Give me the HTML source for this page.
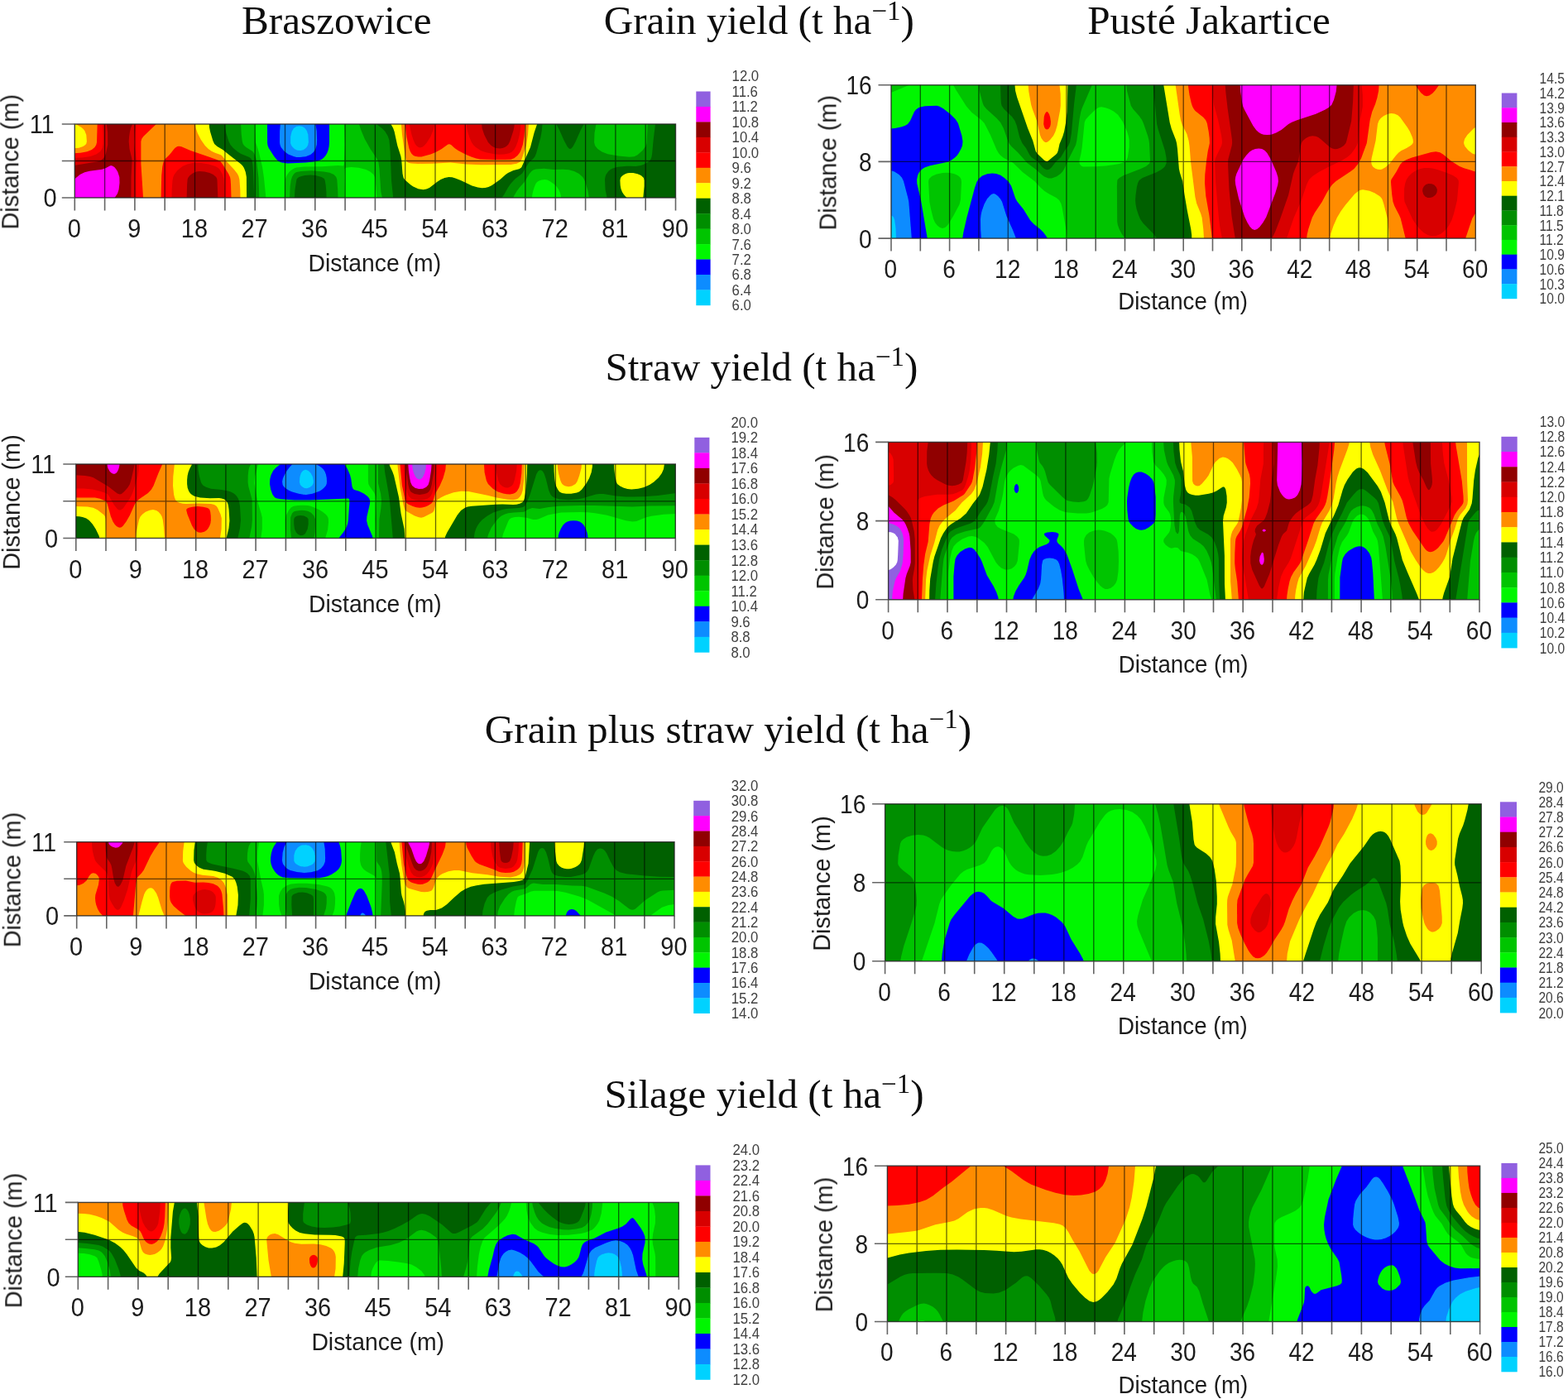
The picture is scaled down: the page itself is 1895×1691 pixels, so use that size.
<!DOCTYPE html>
<html lang="en"><head><meta charset="utf-8"><title>Yield maps</title>
<style>html,body{margin:0;padding:0;background:#fff}body{width:1895px;height:1691px;overflow:hidden}svg{display:block}</style></head><body>
<svg width="1895" height="1691" viewBox="0 0 1895 1691">
<defs><filter id="soft" x="-5%" y="-5%" width="110%" height="110%"><feGaussianBlur stdDeviation="0.6"/></filter><filter id="tsoft" x="-5%" y="-20%" width="110%" height="140%"><feGaussianBlur stdDeviation="0.35"/></filter></defs>
<rect width="1895" height="1691" fill="#fff"/>
<g font-family="'Liberation Serif',serif" font-size="49.2" fill="#111" filter="url(#tsoft)">
<text x="406.8" y="41.3" text-anchor="middle">Braszowice</text>
<text x="1461.0" y="41.3" text-anchor="middle">Pusté Jakartice</text>
<text x="917.3" y="41.3" text-anchor="middle">Grain yield (t ha<tspan font-size="33" dy="-17.5">−1</tspan><tspan dy="17.5">)</tspan></text>
<text x="920.5" y="459.7" text-anchor="middle">Straw yield (t ha<tspan font-size="33" dy="-17.5">−1</tspan><tspan dy="17.5">)</tspan></text>
<text x="880.0" y="897.6" text-anchor="middle">Grain plus straw yield (t ha<tspan font-size="33" dy="-17.5">−1</tspan><tspan dy="17.5">)</tspan></text>
<text x="923.5" y="1338.6" text-anchor="middle">Silage yield (t ha<tspan font-size="33" dy="-17.5">−1</tspan><tspan dy="17.5">)</tspan></text>
</g>
<g>
<clipPath id="c_p1"><rect x="90.3" y="150.0" width="726.2" height="89.0"/></clipPath>
<g clip-path="url(#c_p1)" filter="url(#soft)">
<rect x="88.3" y="148.0" width="730.2" height="93.0" fill="#00D2FF"/>
<path fill="#0A8CFF" d="M89.3,149 817.5,149 817.5,240 89.3,240ZM358.4,152.8 355,155 352.6,159 351.2,165 351.1,173 351.7,175 352.9,177 355.9,180 359.4,181.8 363.4,182.1 366.4,181.2 368.4,180 370.6,178 371.9,176 372.9,172 372.4,163 370.8,158 369.4,155.9 367.4,154 365.4,152.9 363.4,152.4 361.4,152.3Z"/>
<path fill="#0000FF" d="M89.3,149 338.9,149 338.1,159 338,172 338.4,175 339.6,178 343.4,182.8 348.4,186.4 355.4,189.3 358.4,189.9 362.4,190.1 369.4,189.2 375.2,187 378.8,184 381.3,180 382.8,175 383.1,169 382.7,158 381.2,149 817.5,149 817.5,240 89.3,240Z"/>
<path fill="#00F600" d="M89.3,149 323,149 323.1,173 323.6,176 324.8,179 331.4,189.3 335.4,194 337.4,195.3 340.4,196.5 347.4,197.6 369.4,196.4 380.4,195.3 386.4,193.8 389.4,192.2 391.4,190.5 393.5,188 395.3,185 396.8,181 397.6,177 398,172 398,149 817.5,149 817.5,240 89.3,240Z"/>
<path fill="#00C400" d="M89.3,149 308,149 308.2,160 309,172 312.9,184 317.1,202 319,215 321.5,240 89.3,240ZM416,149 817.5,149 817.5,240 678,240 677.7,236 676.9,233 675.1,229 673.1,226 670.1,223 664.5,218.9 661.5,217.4 658.5,216.9 654.5,217.4 651.5,218.4 649.1,220 647.5,222 645.8,226 644,232 643.2,236 643,240 455.5,240 453.5,216 452.6,213 451.4,211 447.4,207.4 442.4,205.1 433.4,202.7 424.4,202 417.4,202.7 416.4,204.5 416.1,215 416.8,240 343.8,240 344.2,224 344.7,218 345.3,215 346.6,212 349.4,208 351.5,206 355.4,203.5 358.4,202.4 367.4,201.6 389.4,201.2 408.4,200.1 414.4,200.5 415.4,200 415.9,197 417,175Z"/>
<path fill="#008E00" d="M89.3,149 291,149 291.8,163 292.8,171 293.7,174 295.1,176 297.4,178 305.4,183.1 307.5,186 309.3,191 310.5,198 312.5,215 313.4,240 89.3,240ZM434.1,149 720.6,149 718.5,161 718.1,172 719.1,176 722.3,180 727.5,183.6 734.5,186.2 747.5,188.6 760.5,189.8 766.5,189.2 770.5,187.2 776.4,182 780.2,177 781.1,175 781.6,172 782.7,149 817.5,149 817.5,240 711.9,240 710.4,230 707.3,220 705.5,216 704.2,214 699.8,210 693.9,207 687.5,205.2 680.5,204.7 668.5,205 657.5,203.8 647.5,204.5 644.5,205.5 642.4,207 639.9,210 633.8,220 628.4,226 624.6,231 621.1,237 620.3,239 620.3,240 462.2,240 460.4,232.2 458.5,204 457.4,196 455.6,192 447.4,179.8 440.8,168 436.2,157 434.3,151ZM363.8,207 376.4,206.3 391.4,207.5 398.4,208.7 403.5,211 406.3,214 407.3,217 408.2,229 408.5,240 350,240 350.7,225 351.7,218 352.9,214 354.6,211 356.5,209 358.4,208Z"/>
<path fill="#006000" d="M89.3,149 272,149 272.3,155 273.4,161 276.5,171 278.5,175 281.9,179 287.4,183.6 291.4,185.9 301.2,190 303.4,191.8 304.4,193.5 305.4,198.6 306.1,208 307.3,240 89.3,240ZM455.5,149 655.5,149 655.5,150 654.8,158 653.4,166 648.2,185 646.6,189 644.5,191.7 639.5,195.9 631.4,209.2 629.4,211.1 622.8,216 617.2,222 613.8,227 609.4,234.9 606.5,239 606.5,240 475.3,240 473.1,219 471.4,180 470.4,169.3 468.5,164 465.4,158.9 462.4,155.7 456.3,151 455.5,150ZM672.4,149 705.6,149 705.2,151 701.9,157 695.7,171 692.5,177 690.5,179.4 688.5,179.9 687.1,179 685.5,176.9 681.5,169.4 676,157 672.8,151ZM792.1,149 817.5,149 817.5,240 733.8,240 731.5,229 731,217 731.4,214 732.4,211 735.5,206.8 737.7,205 740.5,203.5 746.5,201.7 757.5,200.7 768.5,200.9 774.5,199.9 778.5,198.4 782.8,196 784.5,194.9 786.2,193 787.4,190 788.1,186 789.5,170.5ZM368.4,212 375.4,211.6 381.4,212.1 388.6,214 391.8,216 392.7,218 393.7,224 394.4,232 394.6,240 355.8,240 356.4,229.6 358.4,217 359.4,215.4 361.3,214 364.4,212.9Z"/>
<path fill="#FFFF00" d="M89.3,149 252.7,149 253,154 254,159 257.3,170.1 259.1,174 262.5,177 269.3,180.9 275.4,186.1 290.8,198 292.9,200 294.9,203 296.8,208 297.9,214 298.1,240 89.3,240ZM472.4,149 649.1,149 649.1,150 645.7,160 641,178 630.4,201.9 629.4,203 627.4,204.2 620.4,206.1 614,209 611.1,211 604.4,217.1 594.5,224 590.4,225.9 586.4,226.9 582.4,227.2 577.4,226.6 570.4,224.4 557.4,218.2 550.4,215.5 546.4,214.3 542.4,213.9 537.4,214.9 532.6,217 528.4,219.7 519,227 515.4,228.6 511.4,229.2 505.4,228.2 499.4,225.5 496.4,223.4 489.4,217.4 487.7,215 486.5,210 485.3,194 484.4,188.7 480.3,176 476.6,159 475.2,155 472.4,150ZM760.3,209 765.2,209 770.5,210.2 774.7,212 777.9,215 778.6,218 778.6,225 777.2,240 757.4,240 757.4,239 753.8,235 751.9,232 750.4,228 749.7,224 749.4,218 750,215 751.5,213 754.2,211 757.5,209.6Z"/>
<path fill="#FF8C00" d="M91.5,149 235.9,149 236.7,155 238.8,161 242.9,169 247.8,176 251.8,180 255.3,182.5 259.3,184.4 266.3,186.9 268.3,188.3 273.4,194.7 283,205 286.9,210 288.4,213 289.4,217 290.3,229 290.5,240 89.3,240 89.3,179.3 95.3,178.7 100.3,177 102.3,175.8 104.2,174 104.9,171 104.3,163 102.3,158 100.7,156 98.4,154 91.5,150ZM484.8,149 638.9,149 638.9,150 638.1,162 636,176 630.4,192.8 628.4,195.8 624.4,197.8 617.4,198.9 581.4,199.2 563.4,198.5 544.4,196.4 522.4,197.7 505.4,197.9 497.4,197.4 494.4,196.9 492.4,196.1 490.8,194 489.7,189 485.9,162Z"/>
<path fill="#FF0000" d="M117.7,149 188.5,149 188.5,150 187.8,151 173.2,165 171.3,167.7 170.4,171 170.4,198 173.1,240 89.3,240 89.3,185.2 97.3,184.8 105.3,183.3 110.9,181 114.5,178 116.3,175 117,172ZM489.4,149 634.5,149 634.5,152 633.5,165 631.8,175 629.4,182 627.8,185 625.4,188 621.4,191.3 617.4,192.7 610.4,193.1 595.4,193 580.4,192.4 575.4,191.4 569.4,189.6 562.4,186.6 553.8,182 549.4,179.1 545.4,175.3 543.4,174.2 541.4,174.5 533.4,180.3 526.6,184 520.4,186.6 509.4,189.5 505.4,189.6 501.4,188.7 499.4,187.7 497.4,185.8 495.8,183 494.4,179.2 491.4,165.4ZM214.3,177 216.3,176.7 219.3,177.3 230.3,182 261.3,192.7 266.4,195 269.3,198.9 276.1,210 278,214 278.6,217 279,222 279.5,240 194.6,240 195.2,212 196.2,202 197.3,196.5 198.4,194 199.8,192 204.9,187 211.3,179.1Z"/>
<path fill="#D80000" d="M123.9,149 164.6,149 162.7,163 162.1,172 162.4,176 164.4,187 165,193 164.1,217 164.7,240 89.3,240 89.3,190.8 99.3,190.6 109.3,189.1 116.3,186.6 121.3,182.9 123.7,179 124.7,174 124.7,163ZM494.4,149 525,149 524.9,152 524.1,156 520.5,165 515.4,173 512.7,176 510.4,177.7 507.4,178.4 505.4,177.8 503.2,176 501.4,173.6 499.4,168.8 497.4,162.4ZM563.9,149 629.4,149 629,156 627.9,163 625.8,171 623.5,177 621.2,181 618.4,183.8 615.4,185.2 609.4,186.4 603.4,186.8 597.4,186.3 587.4,184.3 581.4,182.2 575,178 571.9,175 569.9,172 567.3,166 565.2,159 564.2,154ZM232.8,197 241.3,196.8 252.3,198.5 260.3,201.1 263.3,202.7 265.3,204.5 268.6,210 270.5,216 271.2,227 271.4,240 207.4,240 207.7,229 208.5,218 209.3,214 210.6,211 214.4,206 220.6,201 226.3,198.4Z"/>
<path fill="#900000" d="M128.7,149 160.1,149 160.1,150 158,155 157,159 156.1,165 155.7,171 156.5,180 159.2,191 159.6,194 158.5,214 158.4,240 89.3,240 89.3,199.9 118.3,195.2 122.3,193.8 125.3,191 127,188 128.1,185 130.2,175 130.1,160ZM582.1,149 621.8,149 621.4,153.4 620.4,158 616.4,170.6 614.4,174.6 612.4,176.5 610.1,178 607.4,179 604.4,179.5 599.4,179 596.4,177.8 593.7,176 589.9,172 585.3,163 582.6,155ZM241,207 247.3,207.4 253.3,208.9 257.7,211 261.2,214 262.2,216 262.5,218 263.4,240 225.6,240 226.1,223 226.6,217 227.2,215 229.5,212 233.3,209.3 237.3,207.6Z"/>
<path fill="#FF00FF" d="M128.1,203 133.3,200.2 135.3,200.2 138.3,202.1 140.3,204.4 142.3,207.8 144.3,214 144.5,221 143.6,229 142,234 138.6,239 138.6,240 89.3,240 89.3,216.3 90.3,216.3 91.3,215.6 96.6,211 102.3,208.3 108.3,206.7 123.3,204.7Z"/>
</g>
<path d="M126.6,150.0V239.0M162.9,150.0V239.0M199.2,150.0V239.0M235.5,150.0V239.0M271.9,150.0V239.0M308.2,150.0V239.0M344.5,150.0V239.0M380.8,150.0V239.0M417.1,150.0V239.0M453.4,150.0V239.0M489.7,150.0V239.0M526.0,150.0V239.0M562.3,150.0V239.0M598.6,150.0V239.0M634.9,150.0V239.0M671.3,150.0V239.0M707.6,150.0V239.0M743.9,150.0V239.0M780.2,150.0V239.0M90.3,194.5H816.5" stroke="#000" stroke-opacity="0.6" stroke-width="1.3" fill="none"/>
<rect x="90.3" y="150.0" width="726.2" height="89.0" stroke="#222" stroke-opacity="0.85" stroke-width="1.4" fill="none"/>
<path d="M90.3,239.0V254.5M126.6,239.0V254.5M162.9,239.0V254.5M199.2,239.0V254.5M235.5,239.0V254.5M271.9,239.0V254.5M308.2,239.0V254.5M344.5,239.0V254.5M380.8,239.0V254.5M417.1,239.0V254.5M453.4,239.0V254.5M489.7,239.0V254.5M526.0,239.0V254.5M562.3,239.0V254.5M598.6,239.0V254.5M634.9,239.0V254.5M671.3,239.0V254.5M707.6,239.0V254.5M743.9,239.0V254.5M780.2,239.0V254.5M816.5,239.0V254.5M74.8,150.0H90.3M74.8,194.5H90.3M74.8,239.0H90.3" stroke="#4a4a4a" stroke-opacity="0.85" stroke-width="1.6" fill="none" filter="url(#tsoft)"/>
<g font-family="'Liberation Sans',sans-serif" font-size="30.5" fill="#1c1c1c" text-anchor="middle" filter="url(#tsoft)">
<text transform="translate(89.7 287.0) scale(0.95 1)">0</text>
<text transform="translate(162.3 287.0) scale(0.95 1)">9</text>
<text transform="translate(234.9 287.0) scale(0.95 1)">18</text>
<text transform="translate(307.6 287.0) scale(0.95 1)">27</text>
<text transform="translate(380.2 287.0) scale(0.95 1)">36</text>
<text transform="translate(452.8 287.0) scale(0.95 1)">45</text>
<text transform="translate(525.4 287.0) scale(0.95 1)">54</text>
<text transform="translate(598.0 287.0) scale(0.95 1)">63</text>
<text transform="translate(670.7 287.0) scale(0.95 1)">72</text>
<text transform="translate(743.3 287.0) scale(0.95 1)">81</text>
<text transform="translate(815.9 287.0) scale(0.95 1)">90</text>
</g>
<g font-family="'Liberation Sans',sans-serif" font-size="30.5" fill="#1c1c1c" text-anchor="end" filter="url(#tsoft)">
<text transform="translate(68.7 250.2) scale(0.95 1)">0</text>
<text transform="translate(65.7 161.2) scale(0.95 1)">11</text>
</g>
<text font-family="'Liberation Sans',sans-serif" font-size="30" fill="#1c1c1c" text-anchor="middle" filter="url(#tsoft)" transform="translate(452.8 327.6) scale(0.945 1)">Distance (m)</text>
<text font-family="'Liberation Sans',sans-serif" font-size="30" fill="#1c1c1c" text-anchor="middle" filter="url(#tsoft)" transform="translate(22.3 195.7) rotate(-90) scale(0.962 1)">Distance (m)</text>
<g filter="url(#soft)">
<rect x="841.3" y="110.50" width="17.3" height="18.76" fill="#9060E0"/>
<rect x="841.3" y="128.96" width="17.3" height="18.76" fill="#FF00FF"/>
<rect x="841.3" y="147.41" width="17.3" height="18.76" fill="#900000"/>
<rect x="841.3" y="165.87" width="17.3" height="18.76" fill="#D80000"/>
<rect x="841.3" y="184.33" width="17.3" height="18.76" fill="#FF0000"/>
<rect x="841.3" y="202.79" width="17.3" height="18.76" fill="#FF8C00"/>
<rect x="841.3" y="221.24" width="17.3" height="18.76" fill="#FFFF00"/>
<rect x="841.3" y="239.70" width="17.3" height="18.76" fill="#006000"/>
<rect x="841.3" y="258.16" width="17.3" height="18.76" fill="#008E00"/>
<rect x="841.3" y="276.61" width="17.3" height="18.76" fill="#00C400"/>
<rect x="841.3" y="295.07" width="17.3" height="18.76" fill="#00F600"/>
<rect x="841.3" y="313.53" width="17.3" height="18.76" fill="#0000FF"/>
<rect x="841.3" y="331.99" width="17.3" height="18.76" fill="#0A8CFF"/>
<rect x="841.3" y="350.44" width="17.3" height="18.76" fill="#00D2FF"/>
</g>
<g font-family="'Liberation Sans',sans-serif" font-size="18" fill="#404040" filter="url(#tsoft)">
<text transform="translate(884.6 98.4) scale(0.93 1)">12.0</text>
<text transform="translate(884.6 116.9) scale(0.93 1)">11.6</text>
<text transform="translate(884.6 135.3) scale(0.93 1)">11.2</text>
<text transform="translate(884.6 153.8) scale(0.93 1)">10.8</text>
<text transform="translate(884.6 172.3) scale(0.93 1)">10.4</text>
<text transform="translate(884.6 190.7) scale(0.93 1)">10.0</text>
<text transform="translate(884.6 209.2) scale(0.93 1)">9.6</text>
<text transform="translate(884.6 227.6) scale(0.93 1)">9.2</text>
<text transform="translate(884.6 246.1) scale(0.93 1)">8.8</text>
<text transform="translate(884.6 264.5) scale(0.93 1)">8.4</text>
<text transform="translate(884.6 283.0) scale(0.93 1)">8.0</text>
<text transform="translate(884.6 301.5) scale(0.93 1)">7.6</text>
<text transform="translate(884.6 319.9) scale(0.93 1)">7.2</text>
<text transform="translate(884.6 338.4) scale(0.93 1)">6.8</text>
<text transform="translate(884.6 356.8) scale(0.93 1)">6.4</text>
<text transform="translate(884.6 375.3) scale(0.93 1)">6.0</text>
</g>
</g>
<g>
<clipPath id="c_p2"><rect x="1077.0" y="102.8" width="706.3" height="185.3"/></clipPath>
<g clip-path="url(#c_p2)" filter="url(#soft)">
<rect x="1075.0" y="100.8" width="710.3" height="189.3" fill="#00D2FF"/>
<path fill="#0A8CFF" d="M1076,101.8 1784.3,101.8 1784.3,289.1 1083,289.1 1082.6,276.1 1081.2,266.1 1080.1,263.1 1079,261.4 1077,260.2 1076,260.2Z"/>
<path fill="#0000FF" d="M1076,101.8 1784.3,101.8 1784.3,289.1 1227.8,289.1 1227.5,287.1 1224,278.1 1216.4,261.1 1211.1,244 1209.1,240.5 1206.1,237 1203.1,234.7 1201.1,234.1 1199.1,234.5 1197.1,235.7 1193,240.2 1189.4,247 1186.6,255 1185.5,260.1 1185,265.1 1185.2,278.1 1185.9,289.1 1101.9,289.1 1098.3,244 1097.3,239 1092,219 1090,214.8 1086.5,211 1081,207.6 1078,206.5 1076,206.3Z"/>
<path fill="#00F600" d="M1076,101.8 1784.3,101.8 1784.3,289.1 1265.7,289.1 1265.7,288.1 1264.8,286.1 1261.1,281 1257.1,277.1 1249.1,270.6 1245.1,266.3 1236.9,253 1229.1,243.2 1227.1,239.5 1222.2,225 1219.2,220 1214.1,215.2 1209.1,211.8 1204.1,210 1199.1,209.5 1193,210.2 1187,212.6 1182.9,216 1180.4,220 1178,227.1 1168.4,263.1 1164.1,282.1 1163.1,289.1 1120.9,289.1 1113,242 1108.3,222 1108.1,217 1109.1,212 1110.4,209 1112,206.7 1115,204 1118,202.3 1124,200.2 1144.1,196 1149.2,193.9 1154,190.6 1156.6,187.9 1158.7,184.9 1161.4,179.9 1163,175.9 1163.5,170.9 1162.4,163.9 1157.9,148.9 1154.7,143.9 1148.6,137.9 1140,131.3 1135,128.4 1132,127.7 1118,128.3 1113,129.2 1110,130.3 1107,132.4 1105,134.9 1100,145.9 1097,149.9 1093.6,151.9 1089,153.5 1081.8,154.9 1076,155.4Z"/>
<path fill="#00C400" d="M1076,101.8 1098.9,101.8 1098.9,102.8 1078,111.6 1076,111.9ZM1152.2,101.8 1784.3,101.8 1784.3,289.1 1290,289.1 1288.4,277.1 1283.6,251 1282.3,246 1280.1,242 1276.5,239 1267.1,234.1 1262.4,231 1258.1,227.2 1250.3,219 1236.1,208.3 1225.1,197.6 1222.1,195.6 1213.1,191 1209.1,187.7 1206.8,184.9 1204.5,180.9 1197.1,163.5 1189.7,148.9 1186,144.9 1174.5,135.9 1168.1,128.8 1155.4,108.8 1152.6,103.8ZM1328.1,129.7 1324.1,132.2 1316.1,139.9 1312.1,144.6 1310.7,147.9 1307.7,177.9 1306.4,185.9 1304.3,194.9 1304.5,197 1305.4,199 1307.1,200.7 1309.1,201.6 1324.1,201.2 1336.1,200.4 1345.1,199.3 1352.5,198 1357.1,196.6 1360.1,195.1 1361.8,192.9 1362.9,189.9 1364.7,177.9 1364.7,168.9 1363.7,163.9 1362.1,158.9 1356.8,146.9 1351.1,138.7 1346.1,134.7 1341.1,132.1 1336.1,130.2 1331.1,129.3ZM1139.3,209 1144,208.7 1148,209 1152.8,210 1156,211.2 1158.9,213 1160.7,215 1161.6,217 1162,220 1161,241 1159.6,247 1152,261.3 1146.1,271.1 1144,273.5 1142.2,275.1 1139,276 1136,275.1 1133,272.8 1130,268.9 1128,264.4 1125,252.6 1123.4,244 1122.1,220 1122.3,218 1123,216 1126.1,213 1132,210.4Z"/>
<path fill="#008E00" d="M1183,101.8 1319.7,101.8 1319.4,103.8 1307.7,130.8 1306.3,134.9 1304.6,143.9 1301.3,169.9 1300.1,175.3 1291.1,192.9 1286.3,204 1284.1,207.4 1281.7,210 1277.1,213.2 1271.1,215.4 1267.1,215.4 1262.1,213.5 1259.1,211.3 1252.1,205.1 1241.5,197 1230.1,184.3 1222.4,176.9 1220,173.9 1218.4,170.9 1212.8,154.9 1209.1,147.9 1204.6,142.9 1192.2,131.8 1188.9,127.8 1187.7,124.8 1184.2,111.8 1183.3,106.8ZM1361.1,101.8 1784.3,101.8 1784.3,289.1 1359.5,289.1 1359.5,288.1 1355.2,282.1 1352.7,277.1 1350.9,272.1 1350.2,268.1 1349.9,225 1350.3,218 1350.8,217 1352.8,215 1357.9,212 1378.7,204 1385.1,201 1388.7,198 1389.8,196 1390,193.9 1389,172.9 1388.4,168.9 1387.1,163.9 1381.9,148.9 1380.1,144.9 1376.6,139.9 1369.3,131.8 1366.8,127.8 1362.1,110Z"/>
<path fill="#006000" d="M1209,101.8 1301,101.8 1298.1,125.5 1294.9,160.9 1293,171.9 1291.2,175.9 1287.1,181.4 1282.1,189.9 1276.1,195.6 1271.1,202.1 1268.1,204.7 1265.1,205.3 1262.1,204.1 1259.7,202 1254.1,195.6 1246.5,189.9 1244.2,186.9 1240.1,179.2 1235.4,172.9 1232.3,165.9 1228.8,151.9 1226.5,145.9 1223,140.9 1213.3,131.8 1210.6,127.8 1209.9,124.8 1209.5,118.8ZM1393.9,101.8 1784.3,101.8 1784.3,289.1 1397.7,289.1 1397.3,287.1 1394.1,282.7 1381.7,270.1 1378.1,265.1 1376,260.1 1373.7,253 1372.5,247 1372.1,242 1372.5,236 1373.9,226 1375.2,221 1376.7,218 1380.8,215 1397.1,208.4 1403.1,205.3 1406.1,203 1408,201 1409.7,197 1409.6,190.9 1407.9,181.9 1399.6,155.9 1398.1,149.9 1394.6,112.8Z"/>
<path fill="#FFFF00" d="M1226.4,101.8 1290.4,101.8 1289.6,134.9 1288.1,148.2 1286.1,159 1284.3,164.9 1280.5,173.9 1278.8,181.9 1277.7,184.9 1275.9,186.9 1266.1,194.9 1264.1,195 1262.1,193.7 1253.9,185.9 1251.8,182.9 1248.2,169.9 1242.1,154.9 1229.2,117.8 1227.1,109.8ZM1406.1,101.8 1784.3,101.8 1784.3,289.1 1440.3,289.1 1440.2,284.1 1439.3,277.1 1434.9,255 1431.5,235 1429.2,219 1426,209 1424.9,204 1423,179.9 1422.1,173.3 1421,168.9 1415.9,155.9 1413.7,147.9Z"/>
<path fill="#FF8C00" d="M1242.5,101.8 1280.4,101.8 1281.7,113.8 1281.8,127.8 1281.1,133.5 1277.6,151.9 1275.5,158.9 1273.1,163.9 1269.1,168.9 1267.1,170.8 1265.1,172 1263.1,171.9 1261.1,170.4 1258.5,166.9 1256.9,162.9 1253.1,145.9 1247.7,131.8 1246.2,126.8 1243.3,110.8ZM1420.5,101.8 1784.3,101.8 1784.3,154 1783.3,154 1781.3,155.1 1773.4,162.9 1770.1,167.9 1769.1,171.9 1769.3,173.9 1770.5,176.9 1774.3,181.5 1779.3,185.4 1782.3,186.6 1784.3,186.8 1784.3,289.1 1678.9,289.1 1678.4,278.1 1676.8,264.1 1672.3,246.4 1670.5,241 1669.2,239 1667.2,237 1661.2,233.2 1655.2,230.8 1647.2,229.3 1645.2,229.5 1642.2,230.6 1637.2,234.4 1626.2,247.5 1620.7,255 1615.9,263.1 1611.5,273.1 1608.4,282.1 1607.1,289.1 1455,289.1 1454.3,277.1 1452.6,263.1 1451.1,258.1 1446.2,246 1444.4,238 1439.2,197 1437.6,176.9 1436.6,169.9 1434.4,161.9 1428.8,150.9 1427.1,145.8 1425.8,138.9ZM1677.3,137.8 1672.4,139.9 1668.6,142.9 1666.4,145.9 1665,149.9 1662.6,169.9 1657.7,190.9 1657.1,194.9 1657.8,199 1659.2,201.5 1662.2,203.8 1665.2,204.8 1668.3,205 1670.3,204.6 1674.7,202 1680,197 1687,187.9 1690.3,184.5 1693.3,182.2 1699.9,178.9 1704.8,175.9 1707,173.9 1707.9,171.9 1707.7,168.9 1706.9,165.9 1703.9,158.9 1700.9,153.9 1692.3,141.9 1689.3,139.3 1685.3,137.5 1681.3,137.1Z"/>
<path fill="#FF0000" d="M1435.7,101.8 1666.6,101.8 1666.1,109.8 1664.5,117.8 1662.1,125.8 1658.2,135.2 1655.7,144.9 1651.8,172.9 1645.2,190.9 1641.2,198.3 1636.5,204 1632.2,207.3 1614.6,219 1610.2,223 1607.2,227 1603.5,233 1597.7,244 1589,257 1585.8,263.1 1581.2,277.1 1579.6,284.1 1579.1,289.1 1465,289.1 1461.4,260.1 1457.3,237 1456,221 1456.3,211 1458.1,193.9 1459.7,182.9 1461.9,172.9 1461.7,166.9 1460.7,158.9 1458.8,148.9 1457.2,145.2 1454.2,141.8 1444.5,133.9 1442.8,131.8 1441.1,128.8 1439.8,124.8 1437.5,114.8ZM1710.9,101.8 1739.1,101.8 1739.1,102.8 1734.3,109.5 1731.3,112.8 1727.3,115.6 1724.3,116.2 1721.3,115.4 1717.3,112.3 1711.9,104.8 1710.9,102.8ZM1263.9,135.9 1265.1,135.1 1266.1,135.3 1268,137.9 1269.2,141.9 1269.9,146.9 1269.8,149.9 1269.1,152.9 1267.1,155.9 1265.1,156.6 1263.7,155.9 1262.2,153.9 1261.2,149.9 1261.8,140.9 1262.7,137.9ZM1729.6,183.9 1735.3,183.3 1740.3,184.3 1744.3,186.8 1754.3,194.9 1763.8,201 1769.3,203.3 1782.3,207.2 1784.3,207.5 1784.3,258.1 1783.3,258.1 1782.3,259 1779.3,264.1 1771.5,287.1 1771.2,289.1 1698.9,289.1 1692.7,264.1 1691,260.1 1685.3,249 1683.5,244 1682.2,235 1681.1,222 1681,219 1681.4,217 1687.3,208 1692.3,198.7 1695.3,195.4 1699.9,192.9 1706.3,190.5Z"/>
<path fill="#D80000" d="M1465.3,101.8 1645.6,101.8 1646.9,114.8 1646.9,128.8 1643.2,147.8 1641.4,169.9 1640.8,172.9 1639.7,175.9 1637.3,179.9 1633.6,184.9 1631.2,187.6 1628.2,190.1 1621.2,194.3 1605.2,201.9 1594.2,207.8 1586.2,213 1582.1,217 1579.2,222.9 1572.5,243 1563.7,263.1 1555.5,287.1 1555.2,289.1 1476.9,289.1 1474.1,273.1 1472.8,262.1 1469.2,221 1468.1,197 1468.2,193.9 1469.2,190.5 1476.2,175.9 1476.9,172.9 1476.9,169.9 1476.1,163.9 1472.1,144.9 1467.1,126.8 1465.7,113.8ZM1716.6,204 1721.3,203.1 1726.3,203 1731.3,203.6 1737.3,205 1748.8,209 1755.9,212 1760.5,215 1762.7,218 1762.9,221 1761,242 1757.1,258.1 1754.5,266.1 1750.9,273.1 1746.3,278.8 1741.3,282.7 1738.3,284.1 1735.3,285 1730.3,285.4 1725.3,284.1 1720.3,281 1715.3,276.3 1711.1,271.1 1707.3,265.3 1697.5,244 1697,240 1697.1,228 1698.1,222 1699.8,217 1702.5,213 1706.8,209 1711.3,206.1Z"/>
<path fill="#900000" d="M1480.6,101.8 1635.9,101.8 1635.1,122.8 1633.2,146.2 1627.5,169.9 1626.5,172.9 1624.1,175.9 1620.2,178.6 1616.2,180 1613.2,180.2 1610.2,179.5 1607.3,177.9 1595.9,167.9 1593.2,166 1590.2,164.8 1586.2,164.3 1582.2,165.1 1578.2,167 1574.2,170.5 1572.9,172.9 1572.2,175.6 1569.1,194.9 1564.8,205 1563,210 1557.1,236 1547.2,264.4 1541.2,280 1537.3,288.1 1537.3,289.1 1492.9,289.1 1488.5,261.1 1485.4,228 1484.1,200 1484.2,192.9 1488.7,175.9 1489.1,172.9 1489,168.9 1483.7,131.8 1481.5,112.8ZM1726.4,222 1730.3,222.2 1733.3,223.5 1735.6,226 1736.9,229 1736.7,232 1735.9,234 1734.4,236 1731.3,238.3 1728.3,239.1 1725.3,238.9 1722.3,237.4 1720.3,235 1719.1,231 1719.4,228 1721,225 1723.3,223.1Z"/>
<path fill="#FF00FF" d="M1498.7,101.8 1615.5,101.8 1615.5,102.8 1614.7,110.8 1612,120.8 1609.3,126.8 1606.1,129.8 1601.1,132.8 1590.2,137.7 1568.2,144.9 1561.2,147.7 1557.2,150.1 1548.6,156.9 1542.2,160.6 1536.2,162.7 1531.2,163.1 1527.2,162.7 1524.2,161.7 1521.2,160 1518.2,157.2 1514.4,151.9 1504.2,133.1 1502.3,128.8 1501.2,124.3 1499.2,110.8ZM1517,179.9 1521.2,179.4 1525.2,180.1 1528.6,181.9 1531.4,184.9 1535.5,191.9 1542.5,208 1544.4,214 1544.9,219 1544.2,223.5 1541.4,233 1530.2,262.5 1526.4,269.1 1522.2,274.6 1519.2,277.1 1516.2,277.9 1513.2,276.7 1510.6,274.1 1507.5,269.1 1504.2,262 1497.2,240.5 1493.2,223 1492.7,218 1493.2,214.1 1494.4,210 1502.4,192.9 1506.2,187.8 1510.2,183.5 1513.2,181.4Z"/>
</g>
<path d="M1112.3,102.8V288.1M1147.6,102.8V288.1M1182.9,102.8V288.1M1218.3,102.8V288.1M1253.6,102.8V288.1M1288.9,102.8V288.1M1324.2,102.8V288.1M1359.5,102.8V288.1M1394.8,102.8V288.1M1430.2,102.8V288.1M1465.5,102.8V288.1M1500.8,102.8V288.1M1536.1,102.8V288.1M1571.4,102.8V288.1M1606.7,102.8V288.1M1642.0,102.8V288.1M1677.4,102.8V288.1M1712.7,102.8V288.1M1748.0,102.8V288.1M1077.0,195.4H1783.3" stroke="#000" stroke-opacity="0.6" stroke-width="1.3" fill="none"/>
<rect x="1077.0" y="102.8" width="706.3" height="185.3" stroke="#222" stroke-opacity="0.85" stroke-width="1.4" fill="none"/>
<path d="M1077.0,288.1V303.6M1112.3,288.1V303.6M1147.6,288.1V303.6M1182.9,288.1V303.6M1218.3,288.1V303.6M1253.6,288.1V303.6M1288.9,288.1V303.6M1324.2,288.1V303.6M1359.5,288.1V303.6M1394.8,288.1V303.6M1430.2,288.1V303.6M1465.5,288.1V303.6M1500.8,288.1V303.6M1536.1,288.1V303.6M1571.4,288.1V303.6M1606.7,288.1V303.6M1642.0,288.1V303.6M1677.4,288.1V303.6M1712.7,288.1V303.6M1748.0,288.1V303.6M1783.3,288.1V303.6M1061.5,102.8H1077.0M1061.5,195.4H1077.0M1061.5,288.1H1077.0" stroke="#4a4a4a" stroke-opacity="0.85" stroke-width="1.6" fill="none" filter="url(#tsoft)"/>
<g font-family="'Liberation Sans',sans-serif" font-size="30.5" fill="#1c1c1c" text-anchor="middle" filter="url(#tsoft)">
<text transform="translate(1076.4 335.8) scale(0.92 1)">0</text>
<text transform="translate(1147.0 335.8) scale(0.92 1)">6</text>
<text transform="translate(1217.7 335.8) scale(0.92 1)">12</text>
<text transform="translate(1288.3 335.8) scale(0.92 1)">18</text>
<text transform="translate(1358.9 335.8) scale(0.92 1)">24</text>
<text transform="translate(1429.6 335.8) scale(0.92 1)">30</text>
<text transform="translate(1500.2 335.8) scale(0.92 1)">36</text>
<text transform="translate(1570.8 335.8) scale(0.92 1)">42</text>
<text transform="translate(1641.4 335.8) scale(0.92 1)">48</text>
<text transform="translate(1712.1 335.8) scale(0.92 1)">54</text>
<text transform="translate(1782.7 335.8) scale(0.92 1)">60</text>
</g>
<g font-family="'Liberation Sans',sans-serif" font-size="30.5" fill="#1c1c1c" text-anchor="end" filter="url(#tsoft)">
<text transform="translate(1053.7 299.5) scale(0.92 1)">0</text>
<text transform="translate(1053.7 206.9) scale(0.92 1)">8</text>
<text transform="translate(1053.7 114.2) scale(0.92 1)">16</text>
</g>
<text font-family="'Liberation Sans',sans-serif" font-size="30" fill="#1c1c1c" text-anchor="middle" filter="url(#tsoft)" transform="translate(1429.6 373.5) scale(0.922 1)">Distance (m)</text>
<text font-family="'Liberation Sans',sans-serif" font-size="30" fill="#1c1c1c" text-anchor="middle" filter="url(#tsoft)" transform="translate(1010.5 196.7) rotate(-90) scale(0.962 1)">Distance (m)</text>
<g filter="url(#soft)">
<rect x="1814.8" y="112.50" width="18.6" height="18.04" fill="#9060E0"/>
<rect x="1814.8" y="130.24" width="18.6" height="18.04" fill="#FF00FF"/>
<rect x="1814.8" y="147.99" width="18.6" height="18.04" fill="#900000"/>
<rect x="1814.8" y="165.73" width="18.6" height="18.04" fill="#D80000"/>
<rect x="1814.8" y="183.47" width="18.6" height="18.04" fill="#FF0000"/>
<rect x="1814.8" y="201.21" width="18.6" height="18.04" fill="#FF8C00"/>
<rect x="1814.8" y="218.96" width="18.6" height="18.04" fill="#FFFF00"/>
<rect x="1814.8" y="236.70" width="18.6" height="18.04" fill="#006000"/>
<rect x="1814.8" y="254.44" width="18.6" height="18.04" fill="#008E00"/>
<rect x="1814.8" y="272.19" width="18.6" height="18.04" fill="#00C400"/>
<rect x="1814.8" y="289.93" width="18.6" height="18.04" fill="#00F600"/>
<rect x="1814.8" y="307.67" width="18.6" height="18.04" fill="#0000FF"/>
<rect x="1814.8" y="325.41" width="18.6" height="18.04" fill="#0A8CFF"/>
<rect x="1814.8" y="343.16" width="18.6" height="18.04" fill="#00D2FF"/>
</g>
<g font-family="'Liberation Sans',sans-serif" font-size="18" fill="#404040" filter="url(#tsoft)">
<text transform="translate(1860.6 101.1) scale(0.865 1)">14.5</text>
<text transform="translate(1860.6 118.9) scale(0.865 1)">14.2</text>
<text transform="translate(1860.6 136.6) scale(0.865 1)">13.9</text>
<text transform="translate(1860.6 154.4) scale(0.865 1)">13.6</text>
<text transform="translate(1860.6 172.1) scale(0.865 1)">13.3</text>
<text transform="translate(1860.6 189.9) scale(0.865 1)">13.0</text>
<text transform="translate(1860.6 207.6) scale(0.865 1)">12.7</text>
<text transform="translate(1860.6 225.3) scale(0.865 1)">12.4</text>
<text transform="translate(1860.6 243.1) scale(0.865 1)">12.1</text>
<text transform="translate(1860.6 260.8) scale(0.865 1)">11.8</text>
<text transform="translate(1860.6 278.6) scale(0.865 1)">11.5</text>
<text transform="translate(1860.6 296.3) scale(0.865 1)">11.2</text>
<text transform="translate(1860.6 314.1) scale(0.865 1)">10.9</text>
<text transform="translate(1860.6 331.8) scale(0.865 1)">10.6</text>
<text transform="translate(1860.6 349.5) scale(0.865 1)">10.3</text>
<text transform="translate(1860.6 367.3) scale(0.865 1)">10.0</text>
</g>
</g>
<g>
<clipPath id="c_p3"><rect x="91.8" y="561.0" width="724.5" height="89.5"/></clipPath>
<g clip-path="url(#c_p3)" filter="url(#soft)">
<rect x="89.8" y="559.0" width="728.5" height="93.5" fill="#00D2FF"/>
<path fill="#0A8CFF" d="M90.8,560 817.3,560 817.3,651.5 90.8,651.5ZM369,567.8 366,569 363.7,571.9 362.3,576.9 362,582.9 362.9,585.9 365,588.3 368,590 371,590.3 374,589.3 377.2,586.9 378.8,583.9 378.9,580.9 377.8,575.9 375.7,571.9 372.6,569 371,568.2Z"/>
<path fill="#0000FF" d="M90.8,560 353.4,560 353.4,561 349.7,565 346.7,569 342.8,575.9 341.7,578.9 341.1,581.9 341.6,585.9 342.8,587.9 345,590 349,592.7 353,594.6 361,596.8 366.4,597.8 370,598 377.5,596.8 386,593.8 389.2,591.8 391.5,589.8 393.9,586.9 394.7,584.9 395,581.9 394.7,576.9 393.8,572.9 392.6,570 391,567.5 389,565.4 386,563.3 381.5,561 381.5,560 817.3,560 817.3,651.5 439.9,651.5 439.9,650.5 438,650.1 436.7,650.5 436.7,651.5 90.8,651.5Z"/>
<path fill="#00F600" d="M90.8,560 339.1,560 339.1,561 333.7,565 330.1,569 327.6,573.9 326.3,578.9 326,584.9 327.2,591.8 329.4,597.8 332,601.2 334,602.3 339,603.3 356,604.6 375,604.6 421,602.5 422.2,603.8 422.4,606.7 420.9,628.6 420.3,632.6 419,636.6 417.5,639.6 414.9,643.5 410.1,649.5 409.5,650.5 409.5,651.5 90.8,651.5ZM416.3,560 817.3,560 817.3,651.5 710.5,651.5 710.3,647.5 709.5,643.5 707.7,638.6 705.4,634.6 703.2,632.3 700.5,630.6 697.2,629.6 693.2,629.2 689.2,629.6 685.8,630.6 683.2,632.1 680.6,634.6 678.1,638.6 675.9,643.5 674.8,647.5 674.5,651.5 450.7,651.5 450,648.1 444.3,634.6 443.1,629.6 443.4,624.6 447,608.7 447.2,605.8 446.8,603.8 445.7,601.8 444,599.8 440,596.7 434,593.7 428,592 426.6,590.8 425.5,587.9 424.3,578.9 423,574 420,567.1 416.3,561Z"/>
<path fill="#00C400" d="M90.8,560 312.1,560 311.8,562 308,575.9 307.3,583.9 311.7,607.7 315.7,620.7 316.8,625.6 316.8,639.6 315.2,651.5 90.8,651.5ZM444.9,560 817.3,560 817.3,620.9 802.3,621.7 787.3,623.7 780.3,625.4 769.3,629.9 764.3,630.5 756.3,629.3 733.5,622.7 719.2,620.3 710.2,619.3 701.2,618.9 678.2,619.4 662.2,622.6 651.2,627.2 648.2,628 644.2,627.9 636.2,625.8 627.2,624.7 622.2,624.9 618.2,626.1 615.8,627.6 614.2,630.2 608.2,645 607.3,648.5 607.1,651.5 454.8,651.5 453.7,628.6 454.9,607.7 454.8,603.8 454,599.8 452.3,595.8 446.8,587.9 445.3,584.9 444.9,580.9ZM354.9,611.7 360,611 366,610.8 372,611.1 375.7,611.7 386,616.3 390,618.7 393.7,621.7 395.3,623.6 396.4,625.6 396.9,627.6 397,631.6 396.1,640.6 393.5,649.5 393.2,651.5 346.5,651.5 345,639.6 344.8,629.6 345.1,625.6 346.4,621.7 349,616.7 352,613.3Z"/>
<path fill="#008E00" d="M90.8,560 303.2,560 303.2,561 301.2,565 300.3,569 299.7,574.9 299.6,582.9 300.3,587.9 304.6,603.8 304.9,628.6 304.2,636.6 301.1,651.5 90.8,651.5ZM456.9,560 817.3,560 817.3,611.3 785.3,611.5 764.3,612.6 718.2,611.1 701.2,611.1 675.2,611.7 663.2,613.1 652.2,615 643.2,614.1 638.2,615.8 633.2,618.8 621.2,619.5 614.2,620.3 610.2,621.4 606,623.6 603.5,625.6 600.6,628.6 594,637.6 590.3,645.5 589.4,648.5 589.1,651.5 457.9,651.5 458.4,627.6 460.3,614.7 461,604.8 460.1,596.8 457,583.9ZM357,617.7 364,616.8 368,617 372,617.8 376,619.7 379.5,623.6 381,627.6 381.1,632.6 380.6,643.5 379.2,651.5 352.1,651.5 351,640.6 351.1,625.6 353,620.5 355,618.4Z"/>
<path fill="#006000" d="M90.8,560 239.2,560 239.6,568 240.9,575.4 243,582.9 244,584.9 245.8,586.9 249,588.8 254.9,590.7 267.9,592 275.9,593.5 278.9,594.4 281.9,596 284.2,597.8 286.1,599.8 287.9,602.8 289,605.8 290,611.7 291,628.6 290,638.6 287.1,651.5 90.8,651.5ZM464,560 817.3,560 817.3,596 795.3,599 778.3,600.2 765.3,600.6 756.3,600.4 744.3,599.6 729.2,597.1 724.2,596.9 720.2,597.6 704.2,602.3 699.2,603.3 687.2,604.2 676.2,603.6 669.2,601.3 667.1,599.8 665.4,597.8 663.2,592.8 659.8,578.9 657.8,572.9 656.8,570.9 655.2,569 654.2,568.4 652.2,568.3 650.2,569.7 648.2,573.2 640.6,597.8 636.5,607.7 634.2,611.6 632.2,613 627.2,614.1 612.2,615 607.2,615.9 596.1,619.6 588.7,623.7 582.5,628.6 579.8,631.6 577,635.6 575.1,639.6 573.8,643.5 573.1,647.5 572.9,651.5 474.9,651.5 471,605.8 469.4,594.8 465.2,570.9ZM359.4,623.6 363,623.1 367.4,623.6 371.2,625.6 372.6,627.6 372.7,633.6 371.7,639.6 369.2,644.5 368,645.8 366,647.1 363,647.2 360,645.7 357.9,643.5 356,639.6 355.2,633.6 355.2,627.6 356.1,625.6 357.3,624.6Z"/>
<path fill="#FFFF00" d="M90.8,560 232,560 231.7,562 229,567 227.5,570.9 226.6,574.9 226.1,579.9 226.1,584.9 226.7,589.8 228.2,593.8 229.9,596.2 231.9,598 234.9,599.7 241.9,601.4 253.9,602.3 264.9,602.1 267.9,602.5 270.9,603.6 272.8,604.8 274.9,607.6 275.9,610.7 276.6,615.7 277.4,629.6 276.5,638.6 273.3,651.5 120.4,651.5 119.8,648.1 115.7,639.6 111.8,633.6 107.8,629 104.2,626.6 99.8,625 95.8,624.2 90.8,623.9ZM470.3,560 637.2,560 636.9,571.9 636,586.9 634.8,596.8 633.7,602.8 632.6,605.8 631.2,607.3 628.2,608.8 624.2,609.7 620.2,609.9 607.2,609.4 599.2,609.7 570.2,611.7 565.1,612.6 562,613.7 557.1,617.1 552.6,622.7 540.4,643.5 538.1,648.5 537.6,651.5 489.5,651.5 488.6,639.6 484.6,620.7 482.1,601.5 476.1,575 474.3,570 471,563ZM669.4,560 716,560 715.9,564 714.7,570.9 712.1,577.9 708.8,583.9 703.1,591.8 700.2,594.2 697.2,595.4 690.2,596.7 684.2,596.8 679.2,595.9 676.2,594.5 674.2,591.8 672.3,587.9 671,583.9 670.3,578.9 669.6,570ZM742.1,560 802.9,560 802.9,561 802,567 799.8,571.9 796.2,576.9 790.3,582.4 785,585.9 778.3,588.9 771.2,590.8 763.3,591.5 758.3,591 753.3,589.6 749.3,587.6 746,584.9 744.7,581.9 743.2,574.8 742.3,567Z"/>
<path fill="#FF8C00" d="M90.8,560 211,560 209.3,575.9 209,586.9 210.1,597.8 211.1,601.8 212.4,604.8 214.7,606.7 217,607.7 220.9,608.7 224.9,608.9 239.9,608.4 254.9,609.1 258.9,610 261.6,611.7 263,613.7 266.6,621.7 267.8,626.6 267.6,639.6 265.8,651.5 199.1,651.5 198,637.6 196.8,628.6 195.7,624.6 194.2,621.7 191.6,618.7 188.9,617.1 184.9,616.1 180.9,616.7 175.9,618.7 172,621.7 169.6,624.6 167.9,628.6 166.2,636.6 164.5,645.5 164,651.5 128.3,651.5 127.7,627.6 127,624.6 125.8,622.5 117.8,616.2 112.6,613.7 105.8,612.6 90.8,611.9ZM480.2,560 633.9,560 633.2,579.7 631.7,592.8 630.2,597.6 628.1,600.8 626.2,602.5 624.2,603.6 620.2,604.3 613.2,603.8 600.2,601.5 589.1,598.7 566.1,594.1 557.1,593.7 548.1,595.2 538.1,598.8 533.1,601.3 529.1,603.8 528.1,604.8 527.1,607 524.6,616.7 524.1,617.9 522.4,619.7 512.1,625 509.1,625.7 506.1,625.3 501.1,623.4 492.1,618.6 490.1,617.2 489.1,615.5 487.7,610.7 483.6,589.8ZM673.6,560 703,560 702.5,566 700.2,574.7 697.6,581.9 695.5,584.9 691.2,587.4 687.2,588.2 683.2,587.4 681.2,586.4 679.4,584.9 678.2,583.1 677.2,580.6 675.2,573.1 674.1,567Z"/>
<path fill="#FF0000" d="M90.8,560 196.3,560 196.3,561 191.4,571.9 185.6,586.9 182.9,591.8 178.9,596.1 167.9,603.5 164.9,606.2 162.8,609.4 156.8,623 152.5,630.6 148.8,635.6 146.8,637.2 144.8,637.7 142.8,637.3 140.8,636.1 138.8,634.1 136.5,630.6 133.8,624 129.8,609 128.8,607.1 126.8,605.2 120.9,602.8 114.8,601.6 90.8,601.4ZM483.4,560 539,560 538.3,568 535.5,577.9 531.6,586.9 526.1,596.4 523.1,606.5 521.1,608.8 517.1,611.2 514.1,612.5 510.1,613.5 507.1,613.7 503.1,613.2 499.1,612.1 493.9,609.7 491.1,607.7 490.1,606 489.5,603.8 485.9,586.9ZM584.9,560 630.8,560 630.3,571.9 628.8,583.9 627.2,589.7 624.8,593.8 622.5,595.8 620.2,596.7 616.2,597.4 612.2,597.3 608.2,596.4 601.2,594.2 595.7,590.8 589.9,584.9 587.9,580.9 585.6,570.9ZM232.2,612.7 238.9,612.1 245.6,612.7 250,613.7 252.2,614.7 253.2,615.7 254.2,618.7 254.8,623.6 254.9,628.6 254.4,632.6 253.3,635.6 251.7,638.6 249.9,640.7 246.9,642.8 242.9,643.8 239.9,643.4 237.9,642.6 234.9,640.1 232.1,635.6 226.5,621.7 225.2,616.7 225.3,615.7 226.1,614.7 228.1,613.7Z"/>
<path fill="#D80000" d="M90.8,560 167.9,560 167.5,569 166.3,576.9 160.6,594.8 158.8,599 155.8,604.3 148.8,614.4 145.8,616.5 143.8,616.4 141.8,615.2 137.8,610.2 131.2,598.8 129.8,597.3 127.8,596.1 120.8,593.7 111.8,591.5 100.8,590.6 90.8,590.4ZM487.8,560 527.8,560 527.4,571.9 526,583.9 522.4,595.8 521,598.8 519.1,601.2 516.1,603 513.1,604.1 510.1,604.7 506.1,604.9 502.1,604.5 498.1,603.2 496.1,602.1 494.1,600.1 492.2,595.8 490.5,587.9 488.5,572.9ZM599,560 624.8,560 624.2,569.1 621.9,579.9 620.2,584.9 618.7,586.9 617.2,588.1 614.2,589.4 612.2,589.6 610.2,589.2 607.2,587.8 604,584.9 602.3,580.9 600.4,572.9 599.3,566Z"/>
<path fill="#900000" d="M90.8,560 162.8,560 162.8,561 158.8,578.8 156.8,585.5 154.1,589.8 149.8,594.6 146.8,596.9 144.8,597.5 141.8,596.5 130.8,588 112.8,577.3 108.8,576 102.8,574.9 90.8,574.2ZM490.6,560 524.9,560 524.1,570.9 521.7,585.9 520.1,591.5 518.1,594.5 516.1,595.9 513.1,597.1 507.1,598 501.1,597 498.1,595.6 496.1,593.9 494.6,590.8 493.2,584.9 491.5,571.9Z"/>
<path fill="#FF00FF" d="M129.7,560 144.5,560 144.3,563 143.3,567 141.9,570 140.8,571.4 138.8,572.7 136.8,572.7 134.8,571.7 132.8,570 130.5,566 129.8,563ZM493.2,560 521.7,560 521.1,567.9 519.1,581.1 517.6,585.9 515.1,588.7 511.1,590.7 506.1,591.1 501.6,589.8 498.1,586.9 496.2,582.9 495.1,577.4 493.9,569Z"/>
<path fill="#9060E0" d="M498.1,560 515,560 514.6,566 513.2,571.9 511.1,576.5 509.1,578.7 507.1,579.4 505.1,579 503.1,577.4 502,575.9 500.1,571.9 499.1,568.6 498.3,564Z"/>
</g>
<path d="M128.0,561.0V650.5M164.2,561.0V650.5M200.5,561.0V650.5M236.7,561.0V650.5M272.9,561.0V650.5M309.1,561.0V650.5M345.4,561.0V650.5M381.6,561.0V650.5M417.8,561.0V650.5M454.1,561.0V650.5M490.3,561.0V650.5M526.5,561.0V650.5M562.7,561.0V650.5M598.9,561.0V650.5M635.2,561.0V650.5M671.4,561.0V650.5M707.6,561.0V650.5M743.8,561.0V650.5M780.1,561.0V650.5M91.8,605.8H816.3" stroke="#000" stroke-opacity="0.6" stroke-width="1.3" fill="none"/>
<rect x="91.8" y="561.0" width="724.5" height="89.5" stroke="#222" stroke-opacity="0.85" stroke-width="1.4" fill="none"/>
<path d="M91.8,650.5V666.0M128.0,650.5V666.0M164.2,650.5V666.0M200.5,650.5V666.0M236.7,650.5V666.0M272.9,650.5V666.0M309.1,650.5V666.0M345.4,650.5V666.0M381.6,650.5V666.0M417.8,650.5V666.0M454.1,650.5V666.0M490.3,650.5V666.0M526.5,650.5V666.0M562.7,650.5V666.0M598.9,650.5V666.0M635.2,650.5V666.0M671.4,650.5V666.0M707.6,650.5V666.0M743.8,650.5V666.0M780.1,650.5V666.0M816.3,650.5V666.0M76.3,561.0H91.8M76.3,605.8H91.8M76.3,650.5H91.8" stroke="#4a4a4a" stroke-opacity="0.85" stroke-width="1.6" fill="none" filter="url(#tsoft)"/>
<g font-family="'Liberation Sans',sans-serif" font-size="30.5" fill="#1c1c1c" text-anchor="middle" filter="url(#tsoft)">
<text transform="translate(91.2 698.5) scale(0.95 1)">0</text>
<text transform="translate(163.7 698.5) scale(0.95 1)">9</text>
<text transform="translate(236.1 698.5) scale(0.95 1)">18</text>
<text transform="translate(308.5 698.5) scale(0.95 1)">27</text>
<text transform="translate(381.0 698.5) scale(0.95 1)">36</text>
<text transform="translate(453.4 698.5) scale(0.95 1)">45</text>
<text transform="translate(525.9 698.5) scale(0.95 1)">54</text>
<text transform="translate(598.3 698.5) scale(0.95 1)">63</text>
<text transform="translate(670.8 698.5) scale(0.95 1)">72</text>
<text transform="translate(743.2 698.5) scale(0.95 1)">81</text>
<text transform="translate(815.7 698.5) scale(0.95 1)">90</text>
</g>
<g font-family="'Liberation Sans',sans-serif" font-size="30.5" fill="#1c1c1c" text-anchor="end" filter="url(#tsoft)">
<text transform="translate(70.2 661.7) scale(0.95 1)">0</text>
<text transform="translate(67.2 572.2) scale(0.95 1)">11</text>
</g>
<text font-family="'Liberation Sans',sans-serif" font-size="30" fill="#1c1c1c" text-anchor="middle" filter="url(#tsoft)" transform="translate(453.4 739.5) scale(0.945 1)">Distance (m)</text>
<text font-family="'Liberation Sans',sans-serif" font-size="30" fill="#1c1c1c" text-anchor="middle" filter="url(#tsoft)" transform="translate(23.8 607.0) rotate(-90) scale(0.962 1)">Distance (m)</text>
<g filter="url(#soft)">
<rect x="839.3" y="528.80" width="18.1" height="18.84" fill="#9060E0"/>
<rect x="839.3" y="547.34" width="18.1" height="18.84" fill="#FF00FF"/>
<rect x="839.3" y="565.89" width="18.1" height="18.84" fill="#900000"/>
<rect x="839.3" y="584.43" width="18.1" height="18.84" fill="#D80000"/>
<rect x="839.3" y="602.97" width="18.1" height="18.84" fill="#FF0000"/>
<rect x="839.3" y="621.51" width="18.1" height="18.84" fill="#FF8C00"/>
<rect x="839.3" y="640.06" width="18.1" height="18.84" fill="#FFFF00"/>
<rect x="839.3" y="658.60" width="18.1" height="18.84" fill="#006000"/>
<rect x="839.3" y="677.14" width="18.1" height="18.84" fill="#008E00"/>
<rect x="839.3" y="695.69" width="18.1" height="18.84" fill="#00C400"/>
<rect x="839.3" y="714.23" width="18.1" height="18.84" fill="#00F600"/>
<rect x="839.3" y="732.77" width="18.1" height="18.84" fill="#0000FF"/>
<rect x="839.3" y="751.31" width="18.1" height="18.84" fill="#0A8CFF"/>
<rect x="839.3" y="769.86" width="18.1" height="18.84" fill="#00D2FF"/>
</g>
<g font-family="'Liberation Sans',sans-serif" font-size="18" fill="#404040" filter="url(#tsoft)">
<text transform="translate(883.4 516.6) scale(0.93 1)">20.0</text>
<text transform="translate(883.4 535.2) scale(0.93 1)">19.2</text>
<text transform="translate(883.4 553.7) scale(0.93 1)">18.4</text>
<text transform="translate(883.4 572.3) scale(0.93 1)">17.6</text>
<text transform="translate(883.4 590.8) scale(0.93 1)">16.8</text>
<text transform="translate(883.4 609.4) scale(0.93 1)">16.0</text>
<text transform="translate(883.4 627.9) scale(0.93 1)">15.2</text>
<text transform="translate(883.4 646.4) scale(0.93 1)">14.4</text>
<text transform="translate(883.4 665.0) scale(0.93 1)">13.6</text>
<text transform="translate(883.4 683.5) scale(0.93 1)">12.8</text>
<text transform="translate(883.4 702.1) scale(0.93 1)">12.0</text>
<text transform="translate(883.4 720.6) scale(0.93 1)">11.2</text>
<text transform="translate(883.4 739.2) scale(0.93 1)">10.4</text>
<text transform="translate(883.4 757.7) scale(0.93 1)">9.6</text>
<text transform="translate(883.4 776.2) scale(0.93 1)">8.8</text>
<text transform="translate(883.4 794.8) scale(0.93 1)">8.0</text>
</g>
</g>
<g>
<clipPath id="c_p4"><rect x="1073.6" y="534.4" width="714.4" height="190.4"/></clipPath>
<g clip-path="url(#c_p4)" filter="url(#soft)">
<rect x="1071.6" y="532.4" width="718.4" height="194.4" fill="#0A8CFF"/>
<path fill="#0000FF" d="M1072.6,533.4 1789,533.4 1789,725.8 1286,725.8 1285.6,716.8 1283.7,698.7 1282,688.7 1280.2,681.7 1278.7,678.5 1276.7,676.5 1272.7,675 1268.7,674.6 1265.7,674.8 1262.7,675.6 1260.8,676.7 1260.1,677.7 1259.1,682.7 1258.1,699.7 1257.1,705.8 1254.7,711.8 1247.7,723.8 1247.3,725.8 1072.6,725.8Z"/>
<path fill="#00F600" d="M1072.6,533.4 1789,533.4 1789,725.8 1660.9,725.8 1659.3,692.7 1657.9,677.8 1657.1,673.7 1654.9,668.6 1650.9,663.4 1646.9,660.8 1642.9,660.2 1639.9,660.7 1636.9,661.7 1629.9,665.7 1625.8,669.7 1622.9,674.7 1621.9,679.4 1619.4,697.7 1619.3,725.8 1308.8,725.8 1308.4,723.8 1303.7,712.2 1296.1,688.7 1289.6,670.7 1285.7,663.7 1282.7,660.3 1278.8,656.7 1277.5,654.7 1277.3,652.6 1279.2,647.6 1279.5,645.6 1278.4,644.6 1276,643.6 1271.7,642.9 1265.6,643.6 1262.7,644.6 1261.8,645.6 1262.7,647.6 1268.2,652.6 1268.5,653.7 1267.8,655.7 1265.2,657.7 1256.7,661.1 1253.7,662.8 1249.7,666.3 1246.7,670.7 1244.2,676.7 1241.2,689.7 1239.6,694.7 1237.7,698.5 1231.3,707.8 1227.3,714.8 1225,720.8 1224.1,725.8 1206.9,725.8 1206.3,721.8 1204.2,715.8 1200.7,708.6 1192.7,695.2 1186.7,678.9 1184.7,674.7 1180.9,668.7 1177.7,664.5 1174.7,662.2 1171.7,661.7 1166.7,663.2 1160.6,667.1 1156.6,671.4 1154.6,675.5 1153.6,681.9 1152.4,696.7 1152.4,725.8 1072.6,725.8ZM1227.7,585.3 1226.2,587.5 1225.6,591.5 1226.7,594.8 1227.7,595.8 1228.7,596 1229.7,595.5 1230.9,593.5 1231.2,589.5 1230.7,587.3 1229.7,585.6 1228.7,585.1ZM1375.8,570.4 1372.8,571.4 1370.2,573.5 1367.7,577.5 1365.8,582.5 1364.1,589.5 1362.3,601.5 1362,606.6 1362.3,616.6 1363.5,627.6 1364.4,630.6 1365.7,632.6 1369.5,636.6 1372.8,639 1376.8,640.6 1379.8,640.8 1383.8,639.9 1388.3,637.6 1393.3,633.6 1395.6,630.6 1396.3,627.6 1396.7,621.6 1396.7,600.5 1395.1,586.5 1394.1,582.5 1392.6,579.5 1388.9,575.5 1384.6,572.5 1379.8,570.6Z"/>
<path fill="#00C400" d="M1072.6,533.4 1361.4,533.4 1361.4,534.4 1355,540.4 1352.5,543.4 1349.7,548.4 1346.8,555.9 1341.8,572.3 1340.4,578.5 1339.7,607.1 1338.2,610.6 1335.7,612.8 1331.7,614.9 1320.7,618.9 1316.7,620 1312.7,620.5 1302.7,620.5 1290.7,619.5 1285.7,618.5 1280.4,616.6 1274,612.6 1264.7,604.9 1262.6,602.5 1261.1,599.5 1260.3,596.5 1257.6,581.5 1256.7,579.2 1254.7,576.5 1251.2,573.5 1236.7,562.8 1233.7,562 1230.7,562.8 1224.7,565.8 1221.7,568.2 1218.7,571.6 1215.7,576.7 1214.2,581.5 1212.1,597.5 1210.3,605.5 1206.9,617.6 1202.9,626.6 1202.2,629.6 1203,633.6 1205.7,636.9 1209.7,639.2 1225.2,645.6 1229.2,648.6 1231.5,651.6 1231.9,653.7 1231.8,657.7 1229.8,677.7 1228.3,681.7 1225.9,684.7 1222.7,687.2 1218.7,688.6 1214.7,688.5 1210.4,686.7 1206.9,683.7 1203.6,679.7 1193.7,661.3 1189.7,656.2 1182.2,650.6 1178.7,648.8 1174.7,648 1170.4,648.6 1163,651.6 1156.6,656 1152.6,660.3 1150.3,665.7 1148.1,675.7 1146.3,690.7 1145.9,699.7 1145.8,725.8 1072.6,725.8ZM1391.9,533.4 1789,533.4 1789,725.8 1671,725.8 1666,661.7 1664.9,653.8 1663.7,650.6 1659.3,642.6 1655.9,632.4 1653.8,627.6 1651.9,625.1 1649.9,623.2 1647.9,622.1 1644.9,621.6 1642.9,622 1640,623.6 1636.3,627.6 1634.7,630.6 1630,643.6 1627.9,647.2 1621.9,655.3 1619.3,661.7 1616.5,673.7 1613.3,693.7 1612.9,700.7 1612.9,725.8 1464.1,725.8 1464.1,724.8 1462.3,718.8 1458.6,700.7 1449.8,679.1 1447.8,675.6 1445,672.7 1440.8,669.9 1435.8,668 1427.8,666.2 1426.8,665.7 1423.8,662.5 1422.8,662 1419.8,661.8 1415.8,662.7 1412.9,661.7 1408.8,658.7 1406.6,655.7 1406.1,653.7 1406.6,651.6 1412.8,643.7 1413.8,641.5 1414.6,637.6 1415.1,632.6 1414.9,625.6 1413.8,621.1 1412.5,618.6 1408,612.6 1406.8,609.9 1406.3,607.6 1406.4,601.5 1409.6,585.5 1409.8,580.5 1408.9,577.5 1406.6,573.5 1402.8,568.8 1396.5,562.5 1394.1,558.5 1392.4,546.4ZM1327.3,640.6 1330.7,640.7 1334.7,641.5 1338.7,642.9 1342.2,644.6 1346,647.6 1348.6,650.6 1349.7,652.6 1350.4,655.7 1351.7,666.7 1352,678.7 1351.5,690.7 1350.1,700.7 1348.5,704.8 1345.8,708.2 1342.5,710.8 1338.7,712.1 1335.7,711.9 1332.7,710.6 1329.7,708.1 1326.1,703.8 1321.7,697.7 1316.5,688.7 1313.6,682.7 1312.1,677.7 1310.1,658.7 1310,653.7 1310.6,650.6 1312.9,646.6 1316.5,643.6 1321.7,641.5Z"/>
<path fill="#008E00" d="M1072.6,533.4 1217,533.4 1216.8,538.4 1215.8,544.4 1209.7,566.6 1206.6,579.5 1201.7,606.9 1199.4,612.6 1188.7,632.1 1185.4,636.6 1183.7,638.1 1181.7,639.1 1166.7,642.3 1159.6,644.4 1155.6,646.1 1150.6,649.8 1148.6,652.5 1147.7,654.7 1141.6,671 1140.4,675.7 1139.2,686.7 1136.2,725.8 1072.6,725.8ZM1252.1,533.4 1324.1,533.4 1325.7,546.8 1325.9,558.5 1325.5,563.5 1321.8,582.5 1320.3,588.5 1316.7,599.2 1315.1,602.5 1313.5,604.5 1312,605.5 1309.7,606.2 1303.7,606.9 1296.7,606.5 1291.7,605.6 1289.7,604.9 1286.7,603 1283.7,600.5 1268.7,585.8 1267,583.5 1266.2,581.5 1263.2,570.5 1261.7,566.5 1260,563.5 1256.8,559.5 1255.9,557.4 1252.8,542.4ZM1406,533.4 1789,533.4 1789,639.9 1788,639.9 1787,640.5 1784,644.1 1782.2,648.6 1781,653.8 1777,677.7 1773.1,725.8 1683,725.8 1682.4,714.8 1680.6,698.7 1674.4,660.7 1671.7,648.6 1669.8,643.6 1664.6,633.6 1660.4,621.6 1657.9,616.8 1655.9,614.6 1653.9,613.3 1650.9,612 1646.9,611.3 1643.9,611.5 1639.9,612.8 1635.9,615 1632.9,617.6 1630.4,621.6 1625.5,632.6 1618.9,643.4 1616.6,648.6 1611.2,666.7 1605.5,694.7 1605,700.7 1604.9,725.8 1469.9,725.8 1465,685.7 1463.8,679.7 1461.4,672.7 1458.3,665.7 1454.8,660.5 1450.8,657 1441.8,651.2 1438.6,647.6 1437.1,644.6 1436.1,641.6 1432.9,624.6 1430.9,620.6 1428.8,619 1427.8,618.8 1426.8,619.4 1425.9,622.6 1425,640.6 1424.8,642.6 1423.8,645.1 1422.8,645.2 1422.2,644.6 1420.8,642.4 1419.4,634.6 1417.9,606.6 1418.1,600.5 1419.9,584.5 1419.9,580.5 1418.1,574.5 1411.7,562.5 1410.1,558.5 1406.9,544.4Z"/>
<path fill="#006000" d="M1072.6,533.4 1206,533.4 1205.4,544.4 1203.6,560.5 1200,576.5 1195.7,599.2 1193.7,606.3 1191.7,610 1185.2,618.6 1180.3,626.6 1177.7,629.8 1175.1,631.6 1172.7,632.8 1158.6,637.5 1153.6,639.6 1148.6,642.6 1146.7,644.6 1145.6,646.4 1138.4,663.7 1135.2,675.7 1133.4,687.7 1131.4,705.8 1130,725.8 1072.6,725.8ZM1417.9,533.4 1789,533.4 1789,616.4 1786,617 1784,618.6 1776.3,627.6 1774.5,631.6 1759.1,725.8 1695,725.8 1694.3,718.8 1692.4,707.8 1690.3,697.7 1685.1,677.7 1681,653.7 1679.1,647.6 1673.8,636.6 1671,629.6 1665.9,608.2 1663.9,604.6 1660.9,601.6 1650.9,593.2 1647.9,591.4 1645.9,590.9 1642.9,591.5 1639.9,593.5 1635.9,597.7 1627.9,607.5 1621.9,620.4 1616.9,629.9 1609.4,646.6 1606.1,656.7 1600.3,679.7 1594.9,693.7 1593.4,698.7 1591.5,713.8 1591,725.8 1474.1,725.8 1473.1,703.8 1472.9,675.7 1472.2,669.7 1470.8,663.6 1467.8,655.2 1464.4,649.6 1459.8,645.8 1450.1,640.6 1446.8,637.2 1444.2,631.6 1440.2,617.6 1437.8,613.6 1433.8,610.5 1431.8,609.6 1427.8,608.8 1425.8,607.5 1425.5,604.5 1426.9,597.5 1427.4,592.5 1427.5,579.5 1426.4,574.5 1422.2,565.5 1420.2,559.5 1418.4,545.4Z"/>
<path fill="#FFFF00" d="M1072.6,533.4 1196.9,533.4 1195.3,549.4 1192.4,567.5 1187.5,588.5 1184.1,597.5 1182.2,600.5 1175.9,608.6 1167.7,620.6 1160.9,626.6 1150.6,632.8 1146.6,635.7 1144.2,638.6 1140.1,644.6 1137,650.6 1129.3,672.7 1127.8,678.7 1124.2,699.7 1123.3,713.8 1123.1,725.8 1072.6,725.8ZM1425.1,533.4 1789,533.4 1789,549.3 1788,549.3 1786.3,553.4 1782.9,568.5 1781.2,580.5 1779.5,602.5 1778.7,608.6 1776,615.8 1769,625.6 1767.1,629.6 1755.6,674.7 1751.9,697.7 1745.1,716.8 1743.5,722.8 1743.1,725.8 1714.8,725.8 1714.6,723.8 1712.3,717.8 1701,691.8 1694.9,676.9 1688.2,650.6 1686.4,645.6 1681,634.6 1679,629.6 1673.6,607.6 1668.9,594.6 1664.9,587.5 1652.9,571.3 1647.9,566.8 1644.9,565.5 1642.9,565.3 1640.9,565.7 1638.9,566.8 1634.9,570.5 1628.6,579.5 1624.9,586.2 1622.6,592.5 1617.4,610.6 1612.9,621.2 1601.8,644.6 1595.7,664.7 1591.2,676.7 1588.5,682.7 1582.1,693.7 1579.8,698.7 1575.9,715.8 1575.1,725.8 1481,725.8 1480,705.8 1479.9,671.7 1478,630.6 1478.7,623.6 1481.8,613.6 1482.8,607.6 1482.6,599.5 1481.3,591.5 1479.8,588.8 1478.8,588.4 1477.8,588.6 1470.1,593.5 1465.7,595.5 1460.8,596.8 1448.8,598.7 1444.8,598.7 1440.8,598.1 1437.8,597.1 1435.5,595.5 1434,593.5 1433.1,591.5 1431.8,586.2 1430,569.5 1427.4,559.5 1426.8,555.8 1425.5,543.4Z"/>
<path fill="#FF8C00" d="M1072.6,533.4 1188,533.4 1187.1,548.4 1185,564.5 1180.6,583.5 1177.1,592.5 1173.7,597.3 1162.4,607.6 1154.6,617.1 1143.6,626.1 1139.6,630 1135.6,635.3 1133.2,640.6 1129.3,655.7 1124.2,671.7 1120.4,689.7 1119.1,700.7 1118.1,725.8 1072.6,725.8ZM1439.2,533.4 1630.8,533.4 1630.5,536.4 1628.3,543.4 1618.9,568.5 1616.4,576.5 1614.8,583.5 1611.7,602.5 1609.9,609.6 1606.4,617.6 1598.1,631.6 1595.8,637.6 1590.9,653.7 1587.9,661.8 1578.2,683.7 1569.8,698.7 1568,704.8 1566.1,713.8 1565.3,719.8 1565,725.8 1488.9,725.8 1487.1,702.8 1487,651.6 1487.9,646.6 1489.2,642.6 1491.5,638.6 1495,633.6 1496.5,630.6 1499.8,614.2 1500.9,604.5 1500.9,582.5 1500.3,578.5 1498.7,574.5 1494.8,567 1489.8,559.2 1486.8,556.4 1483.8,554.3 1480.8,552.9 1477.8,552.6 1473.8,554.1 1468.8,558.5 1466.8,561.6 1460.7,574.5 1457.8,578.6 1452.7,584.5 1449.8,586.9 1447.8,587.6 1445.8,587.3 1443.8,586.3 1442.1,584.5 1441.1,581.5 1440.9,552.4ZM1655.1,533.4 1773,533.4 1773.1,580.5 1774,604.5 1773.4,609.6 1771.1,614.6 1764.5,622.6 1761.8,627.6 1758,639.7 1753.6,651.6 1748,670.1 1746,675.1 1743,680.3 1739,685.8 1735,690 1732,692.1 1729,693.1 1726,693 1723,691.7 1720,689.3 1716.9,685.7 1711,677.1 1705,666.7 1689.7,631.6 1687.8,625.6 1683.3,606.6 1677.3,593.5 1667.9,568.8 1659.2,549.4 1656.3,540.4Z"/>
<path fill="#FF0000" d="M1072.6,533.4 1180.9,533.4 1180.2,546.4 1178.1,565.5 1175.7,579.1 1174.7,582.8 1173.4,585.5 1166,596.5 1164.7,597.9 1152.6,605.5 1140.5,610.6 1133.7,614.6 1128.6,619.6 1126.6,622.6 1124.8,626.6 1123.4,633.6 1121.7,654.7 1118.1,669.7 1116.3,682.7 1115,698.7 1113.9,725.8 1072.6,725.8ZM1503,533.4 1613.2,533.4 1612.2,544.4 1606.2,587.5 1604.3,599.5 1602.8,606.6 1601.4,610.6 1599.3,614.6 1590.2,627.6 1587.6,632.6 1581.2,652.6 1572.2,678.7 1569.9,682.7 1563.3,691.7 1560.1,697.7 1558.5,702.8 1556.6,711.8 1555.4,719.8 1555,725.8 1497,725.8 1495.2,702.8 1492.8,687.1 1492.2,680.7 1492.3,668.7 1493,654.7 1493.4,651.6 1494.5,648.6 1498.9,641.6 1501.1,636.6 1507.2,614.6 1509.7,601.5 1511,584.5 1510.8,578.5 1510,573.5 1505.8,561.5 1505.1,558.5ZM1673.1,533.4 1759,533.4 1759.7,539.4 1766.8,581.5 1768.5,599.5 1768.7,606.6 1768.1,608.6 1767,610.6 1761,617.8 1758,622.6 1746,651.2 1744.1,654.7 1738,662.2 1735,664.8 1732,666.6 1729,667.3 1727,667 1724.5,665.7 1722,663.3 1707.2,641.6 1702.3,632.6 1699.8,625.6 1696.3,610.6 1694.6,604.5 1692.2,599.5 1684.9,586.5 1683.3,582.5 1679.5,560.5 1673.9,538.3Z"/>
<path fill="#D80000" d="M1072.6,533.4 1174.2,533.4 1173.4,554.4 1171.8,568.5 1170.2,575.5 1167.1,585.5 1165.7,589.1 1163.7,592 1156.6,595.6 1151.6,597.2 1146.6,597.7 1132.6,597.7 1117.6,600.1 1112.6,601.8 1110.6,603.1 1109.5,604.5 1109,606.6 1108.9,612.6 1109.5,655.7 1110.2,677.7 1109,700.7 1109.2,725.8 1072.6,725.8 1072.6,586.8 1074.6,586.6 1076.6,585.9 1079.4,583.5 1080,581.5 1080.1,574.5 1079.7,555.4 1078.4,551.4 1076.6,548.6 1074.6,546.7 1072.6,546.2ZM1527,533.4 1606.8,533.4 1606.8,534.4 1596.5,598.5 1594.7,606.6 1592.9,610.9 1589.9,615.4 1586.9,618.5 1578,625.6 1575.6,628.6 1574.1,631.6 1560,674.7 1557.6,679.7 1551.3,689.7 1548.2,696.7 1545,710.8 1543,725.8 1509,725.8 1505,700.7 1501.4,682.7 1501,674.7 1501.6,663.7 1503,653.7 1504.6,647.6 1511.5,628.6 1518.5,614.6 1520.7,607.6 1521.6,600.5 1523.3,579.5 1526.9,560.5ZM1695,533.4 1743,533.4 1743.6,545.4 1745.2,559.5 1750.2,578.5 1752.4,588.5 1754.6,600.5 1754.9,606.6 1753.1,611.6 1742,633.1 1737,639.7 1735,641.4 1733,642.5 1730,642.7 1728,641.6 1725.2,638.6 1722.7,634.6 1717.7,624.6 1709,600.3 1703.1,582.5 1701.6,576.5Z"/>
<path fill="#900000" d="M1121.8,533.4 1169.3,533.4 1168.7,546.7 1167.5,558.5 1163.7,580.6 1162.2,583.5 1158.6,585.4 1154.6,586.7 1150.6,587.2 1146.6,586.8 1142.6,585.4 1132.6,580.2 1128.6,577.5 1125.6,574.5 1123.5,571.5 1122,568.5 1120.7,564.5 1120.1,560.5 1120.2,545.4ZM1538.8,533.4 1594.9,533.4 1594.5,541.4 1592.4,562.5 1589.3,579.5 1586.7,598.5 1584.9,605.5 1583.8,607.6 1580.6,610.6 1570,617.6 1566.1,620.6 1562.4,624.6 1559,629.6 1557.7,632.6 1555.1,641.6 1550.7,645.6 1548.9,648.6 1544.9,659.2 1534.2,693.7 1527.9,708.7 1525.9,711.2 1524.9,711.4 1523.9,710.8 1521.9,707.8 1513.3,688.7 1511.3,680.7 1511.2,672.7 1512,665.7 1513.5,658.7 1515.3,652.6 1517.8,646.6 1517.9,645.6 1516.6,642.6 1516.9,639.6 1519.1,635.6 1526.8,629.6 1528.9,626.6 1531.6,619.6 1534.9,606.6 1535.9,598.5 1537.1,578.5 1539.5,560.5 1539.5,546.4ZM1707.2,533.4 1728.9,533.4 1729.1,560.5 1730.8,577.5 1731,582.5 1730.7,585.5 1729.8,588.5 1728.1,591.5 1727,592.2 1726,591.9 1724,589.1 1720.3,580.5 1715,570.7 1712.9,565.5 1711.1,558.5ZM1072.6,725.8 1072.6,598.6 1074.6,598.8 1079.1,601.5 1082.7,604.5 1092.6,614.3 1095.6,617.6 1098.6,621.9 1100.6,625.6 1101.9,629.6 1104.8,642.6 1105.7,651.6 1105.8,680.7 1105.1,686.7 1103.2,697.7 1102.9,701.8 1103.4,712.8 1105.5,725.8Z"/>
<path fill="#FF00FF" d="M1544.3,533.4 1572.9,533.4 1574,559.5 1573.5,574.5 1572.6,585.5 1570.9,592.5 1568.6,597.5 1566.9,599.8 1564.9,601.4 1560.9,603.1 1557.9,603.5 1555.9,603.3 1553.9,602.5 1551.9,601 1549.6,598.5 1547,594.5 1543.9,586.4 1543.2,580.5ZM1072.6,725.8 1072.6,611.9 1073.6,611.9 1074.6,612.7 1080.4,619.6 1090,627.6 1092.6,630.5 1094.6,633.9 1096.6,638.7 1098.6,644.6 1099.4,648.6 1100.6,665.3 1100.7,679.7 1099.6,684.3 1095.8,693.7 1094.4,698.7 1091.6,717.8 1091.1,725.8ZM1527.7,639.6 1529.6,640.6 1529.9,641.6 1527.9,642.7 1526.9,642.5 1525.6,641.6 1525.9,640.5ZM1522.6,672.7 1524.9,668.1 1525.9,667.8 1526.9,669.1 1527.8,675.7 1527.6,678.7 1527,680.7 1525.9,682.4 1524.9,682.7 1523.9,682.3 1522.9,680.9 1522,677.7Z"/>
<path fill="#9060E0" d="M1072.6,632.6 1075.6,632.6 1079.6,633.7 1083.6,635.8 1086.6,638 1088.6,640.5 1090.2,643.6 1091.4,647.6 1092.1,652.6 1091.7,668.7 1091.1,677.7 1090.5,681.7 1087.7,690.7 1083,698.7 1081.5,702.8 1078.8,714.8 1078,725.8 1072.6,725.8Z"/>
<path fill="#FFFFFF" d="M1072.6,689.3 1072.6,642.9 1076.6,643.2 1079.6,644.3 1081.6,645.6 1084.8,649.6 1085.8,653.7 1085.2,669.7 1084.8,676.7 1084.2,679.7 1082.6,682.7 1079.7,685.7 1076.6,688 1073.6,689.3Z"/>
</g>
<path d="M1109.3,534.4V724.8M1145.0,534.4V724.8M1180.8,534.4V724.8M1216.5,534.4V724.8M1252.2,534.4V724.8M1287.9,534.4V724.8M1323.6,534.4V724.8M1359.4,534.4V724.8M1395.1,534.4V724.8M1430.8,534.4V724.8M1466.5,534.4V724.8M1502.2,534.4V724.8M1538.0,534.4V724.8M1573.7,534.4V724.8M1609.4,534.4V724.8M1645.1,534.4V724.8M1680.8,534.4V724.8M1716.6,534.4V724.8M1752.3,534.4V724.8M1073.6,629.6H1788.0" stroke="#000" stroke-opacity="0.6" stroke-width="1.3" fill="none"/>
<rect x="1073.6" y="534.4" width="714.4" height="190.4" stroke="#222" stroke-opacity="0.85" stroke-width="1.4" fill="none"/>
<path d="M1073.6,724.8V740.3M1109.3,724.8V740.3M1145.0,724.8V740.3M1180.8,724.8V740.3M1216.5,724.8V740.3M1252.2,724.8V740.3M1287.9,724.8V740.3M1323.6,724.8V740.3M1359.4,724.8V740.3M1395.1,724.8V740.3M1430.8,724.8V740.3M1466.5,724.8V740.3M1502.2,724.8V740.3M1538.0,724.8V740.3M1573.7,724.8V740.3M1609.4,724.8V740.3M1645.1,724.8V740.3M1680.8,724.8V740.3M1716.6,724.8V740.3M1752.3,724.8V740.3M1788.0,724.8V740.3M1058.1,534.4H1073.6M1058.1,629.6H1073.6M1058.1,724.8H1073.6" stroke="#4a4a4a" stroke-opacity="0.85" stroke-width="1.6" fill="none" filter="url(#tsoft)"/>
<g font-family="'Liberation Sans',sans-serif" font-size="30.5" fill="#1c1c1c" text-anchor="middle" filter="url(#tsoft)">
<text transform="translate(1073.0 772.5) scale(0.92 1)">0</text>
<text transform="translate(1144.4 772.5) scale(0.92 1)">6</text>
<text transform="translate(1215.9 772.5) scale(0.92 1)">12</text>
<text transform="translate(1287.3 772.5) scale(0.92 1)">18</text>
<text transform="translate(1358.8 772.5) scale(0.92 1)">24</text>
<text transform="translate(1430.2 772.5) scale(0.92 1)">30</text>
<text transform="translate(1501.6 772.5) scale(0.92 1)">36</text>
<text transform="translate(1573.1 772.5) scale(0.92 1)">42</text>
<text transform="translate(1644.5 772.5) scale(0.92 1)">48</text>
<text transform="translate(1716.0 772.5) scale(0.92 1)">54</text>
<text transform="translate(1787.4 772.5) scale(0.92 1)">60</text>
</g>
<g font-family="'Liberation Sans',sans-serif" font-size="30.5" fill="#1c1c1c" text-anchor="end" filter="url(#tsoft)">
<text transform="translate(1050.3 736.2) scale(0.92 1)">0</text>
<text transform="translate(1050.3 641.0) scale(0.92 1)">8</text>
<text transform="translate(1050.3 545.8) scale(0.92 1)">16</text>
</g>
<text font-family="'Liberation Sans',sans-serif" font-size="30" fill="#1c1c1c" text-anchor="middle" filter="url(#tsoft)" transform="translate(1430.2 813.4) scale(0.922 1)">Distance (m)</text>
<text font-family="'Liberation Sans',sans-serif" font-size="30" fill="#1c1c1c" text-anchor="middle" filter="url(#tsoft)" transform="translate(1007.1 630.8) rotate(-90) scale(0.962 1)">Distance (m)</text>
<g filter="url(#soft)">
<rect x="1814.4" y="527.80" width="19.3" height="18.54" fill="#9060E0"/>
<rect x="1814.4" y="546.04" width="19.3" height="18.54" fill="#FF00FF"/>
<rect x="1814.4" y="564.27" width="19.3" height="18.54" fill="#900000"/>
<rect x="1814.4" y="582.51" width="19.3" height="18.54" fill="#D80000"/>
<rect x="1814.4" y="600.74" width="19.3" height="18.54" fill="#FF0000"/>
<rect x="1814.4" y="618.98" width="19.3" height="18.54" fill="#FF8C00"/>
<rect x="1814.4" y="637.21" width="19.3" height="18.54" fill="#FFFF00"/>
<rect x="1814.4" y="655.45" width="19.3" height="18.54" fill="#006000"/>
<rect x="1814.4" y="673.69" width="19.3" height="18.54" fill="#008E00"/>
<rect x="1814.4" y="691.92" width="19.3" height="18.54" fill="#00C400"/>
<rect x="1814.4" y="710.16" width="19.3" height="18.54" fill="#00F600"/>
<rect x="1814.4" y="728.39" width="19.3" height="18.54" fill="#0000FF"/>
<rect x="1814.4" y="746.63" width="19.3" height="18.54" fill="#0A8CFF"/>
<rect x="1814.4" y="764.86" width="19.3" height="18.54" fill="#00D2FF"/>
</g>
<g font-family="'Liberation Sans',sans-serif" font-size="18" fill="#404040" filter="url(#tsoft)">
<text transform="translate(1860.8 516.0) scale(0.865 1)">13.0</text>
<text transform="translate(1860.8 534.2) scale(0.865 1)">12.8</text>
<text transform="translate(1860.8 552.4) scale(0.865 1)">12.6</text>
<text transform="translate(1860.8 570.7) scale(0.865 1)">12.4</text>
<text transform="translate(1860.8 588.9) scale(0.865 1)">12.2</text>
<text transform="translate(1860.8 607.1) scale(0.865 1)">12.0</text>
<text transform="translate(1860.8 625.4) scale(0.865 1)">11.8</text>
<text transform="translate(1860.8 643.6) scale(0.865 1)">11.6</text>
<text transform="translate(1860.8 661.8) scale(0.865 1)">11.4</text>
<text transform="translate(1860.8 680.1) scale(0.865 1)">11.2</text>
<text transform="translate(1860.8 698.3) scale(0.865 1)">11.0</text>
<text transform="translate(1860.8 716.5) scale(0.865 1)">10.8</text>
<text transform="translate(1860.8 734.8) scale(0.865 1)">10.6</text>
<text transform="translate(1860.8 753.0) scale(0.865 1)">10.4</text>
<text transform="translate(1860.8 771.3) scale(0.865 1)">10.2</text>
<text transform="translate(1860.8 789.5) scale(0.865 1)">10.0</text>
</g>
</g>
<g>
<clipPath id="c_p5"><rect x="92.7" y="1017.7" width="722.3" height="89.2"/></clipPath>
<g clip-path="url(#c_p5)" filter="url(#soft)">
<rect x="90.7" y="1015.7" width="726.3" height="93.2" fill="#00D2FF"/>
<path fill="#0A8CFF" d="M91.7,1016.7 816,1016.7 816,1107.9 91.7,1107.9ZM364.8,1021.6 362.1,1022.7 359.8,1024.4 356.8,1028.5 355.3,1033.7 355.3,1040.8 356.3,1042.8 357.8,1044.2 360.1,1045.8 362.8,1046.9 367.8,1047.7 370.8,1047.4 373.8,1046.6 376.8,1045.2 378.8,1043.8 380.7,1040.8 380.8,1034.7 379.8,1029.6 377.8,1025.7 375.9,1023.7 373.8,1022.3 369.8,1021.2Z"/>
<path fill="#0000FF" d="M91.7,1016.7 346.6,1016.7 346.6,1017.7 343.4,1023.7 341.6,1030.7 341,1039.7 341.5,1042.8 342.3,1044.8 345.5,1048.8 348.2,1050.8 350.8,1052.1 358.8,1054.1 367.8,1054.9 375.8,1054.2 383.8,1052.3 387.9,1049.8 391.2,1045.8 392.8,1041.8 393.1,1037.7 392.7,1025.7 391.2,1016.7 816,1016.7 816,1107.9 442.3,1107.9 442.3,1106.9 440.8,1105.1 438.8,1103.6 437.8,1103.4 436.8,1103.9 435.8,1105.3 435.3,1107.9 91.7,1107.9Z"/>
<path fill="#00F600" d="M91.7,1016.7 334.5,1016.7 334.5,1017.7 331.1,1022.7 329.2,1026.7 327.8,1031.7 327.1,1036.7 327,1040.8 327.7,1044.8 329.2,1048.8 331.8,1053.1 333.8,1055.5 336.4,1057.8 338.8,1059.3 341.8,1060.4 349.8,1061.3 367.8,1061.6 385.8,1061.2 392.8,1060.1 396.8,1058.8 401,1056.8 405.6,1053.8 408.8,1050.9 410.4,1048.8 411.9,1045.8 412.7,1042.8 413,1039.7 412.2,1027.7 411.1,1022.7 409.3,1017.7 409.3,1016.7 816,1016.7 816,1107.9 701.7,1107.9 701.7,1106.9 701,1105.9 696.3,1100.9 693.9,1099.4 690.9,1098.9 687.9,1099.8 685.6,1101.9 684.2,1104.9 683.9,1107.9 450.8,1107.9 450.1,1102.9 448.3,1095.9 443.3,1082.8 439.8,1076.4 437.8,1074.5 435.8,1073.7 433.8,1074.2 432.8,1074.8 430.8,1076.9 429.1,1079.8 425.1,1088.9 418.8,1104.9 418.2,1107.9 91.7,1107.9Z"/>
<path fill="#00C400" d="M91.7,1016.7 313.1,1016.7 311.4,1028.7 311.1,1040.8 315.8,1065.2 318.2,1075.8 318.9,1080.8 318.9,1093.9 317.3,1107.9 91.7,1107.9ZM436.8,1016.7 816,1016.7 816,1093.1 808,1094 800,1096.7 787.1,1105.9 785.9,1106.9 785.9,1107.9 744.2,1107.9 744.2,1106.9 743.1,1105.9 738,1102.9 711,1088.1 706,1085.8 700,1083.6 683.4,1078.8 673.9,1077.1 667.9,1076.7 645.9,1076.8 641.9,1077.5 634.9,1080.6 627.9,1082.8 626.2,1083.8 625.3,1084.9 623.9,1089.5 622,1098.9 621.1,1107.9 455.1,1107.9 454.9,1067.8 454.6,1061.8 453.9,1060 452.7,1058.8 442.8,1053.2 439.8,1051 437.9,1048.8 436.2,1045.8 435.1,1040.8 435.1,1032.7 435.5,1025.7ZM360.3,1067.8 370.8,1067.8 384.8,1069.1 395.8,1071.4 398.8,1072.7 400.8,1074.3 402.8,1076.8 404.2,1079.8 405.1,1084.9 405,1091.9 404.4,1097.9 403.4,1101.9 401.4,1106.9 401.4,1107.9 340.5,1107.9 340.5,1106.9 338,1099.9 337.1,1092.9 337,1082.8 338.7,1077.8 341.8,1073.6 346.8,1070.2 351.8,1068.6Z"/>
<path fill="#008E00" d="M91.7,1016.7 303.3,1016.7 303.3,1017.7 300.7,1022.7 299.7,1026.7 299,1031.7 298.8,1038.7 299.5,1041.8 303.8,1047.6 306.2,1051.8 307.7,1055.8 308.8,1060.8 310.6,1077.8 311,1084.9 310.6,1094.9 309.1,1107.9 91.7,1107.9ZM455,1016.7 816,1016.7 816,1075.7 801,1076.5 798,1077.1 795,1078.2 779.9,1087.9 768,1098.5 766,1099.6 764,1099.8 762,1099.3 760,1098.2 748,1088.9 739.5,1083.8 730.8,1079.8 709,1071.7 703,1070.7 690.9,1070.4 671.9,1068.9 655.9,1069.1 644.9,1067.5 642.9,1068 640.9,1069.1 634.9,1073.9 632.9,1074.6 621.9,1076.4 618.7,1077.8 614.5,1080.8 610.1,1085.9 604.4,1094.9 601.7,1101.9 601,1107.9 460.1,1107.9 461.7,1068.8 461.7,1058.8 461.2,1053.8 460.3,1049.8 458.9,1046.7 456.1,1042.8 455.2,1040.8ZM361.4,1072.8 369.8,1072.9 381.8,1074.9 388.8,1077.5 391.2,1078.8 393.4,1080.8 394.8,1083.8 394.7,1091.9 393.9,1097.9 391.4,1105.9 391.2,1107.9 346.9,1107.9 345.5,1097.9 345.1,1091.9 345.1,1083.8 345.8,1080.8 347.8,1077.4 350.8,1075 354.8,1073.8Z"/>
<path fill="#006000" d="M91.7,1016.7 251,1016.7 249.7,1025.7 249.2,1033.7 249.3,1039.7 250.5,1041.8 252.8,1043.1 256.8,1044.4 281.8,1049.8 292.8,1052.6 295.9,1053.8 298.8,1055.4 301.8,1058.8 302.8,1062.8 302.9,1085.9 301,1107.9 91.7,1107.9ZM466.1,1016.7 816,1016.7 816,1060 797,1059.7 779,1058.6 757,1056.2 749,1054.3 745,1052 741.9,1048.8 738,1041.8 733.3,1031.7 731.4,1028.7 729,1026.6 727,1025.7 725,1025.5 722,1026.6 719.4,1029.7 717,1034.7 711.3,1050.8 709.2,1053.8 707,1055.6 704.5,1056.8 701,1057.8 689.9,1059.9 682.9,1060.1 674.9,1059.1 669.9,1057.4 668,1055.8 666.9,1054.3 665.4,1050.8 662.1,1036.7 659.9,1030.1 657.9,1026.6 656.9,1025.6 654.9,1025 652.9,1025.8 651.9,1026.8 650.3,1029.7 643.6,1050.8 637.2,1064.8 634.9,1068.4 632.9,1069.5 619.9,1071.5 605.9,1075.5 597.4,1078.8 591.9,1081.8 588.9,1084.9 585.7,1091.9 583.4,1100.9 582.9,1107.9 472.9,1107.9 471.1,1089.9 470.7,1056.8ZM360.6,1078.8 365.8,1078.4 370.8,1079.2 375.8,1081.3 377.9,1082.8 378.5,1083.8 379,1086.9 379,1107.9 353.2,1107.9 352.3,1093.9 352.5,1083.8 353.8,1081.8 355.2,1080.8Z"/>
<path fill="#FFFF00" d="M91.7,1016.7 235.9,1016.7 234.4,1027.7 234.1,1039.7 234.8,1042.8 237,1045.8 241,1048.8 245.8,1050.7 260.8,1052.9 271.6,1055.8 280.7,1059.8 283.6,1062.8 285.3,1066.8 286.7,1071.8 287.9,1081.8 287.5,1093.9 285.1,1107.9 91.7,1107.9ZM472.3,1016.7 640.2,1016.7 638.6,1043.8 634.6,1059.8 633,1062.8 631.3,1063.8 626.9,1065.1 620.9,1066.1 585.1,1068.8 575.9,1070.2 569,1071.8 562.9,1074.3 557,1077.8 548.9,1084.7 539.9,1093.3 533.9,1097.5 526.9,1100.1 519.9,1100 515.9,1100.8 513.9,1101.8 512.8,1102.9 511.9,1104.9 511.6,1107.9 490,1107.9 489.8,1100.9 489,1094.9 487.9,1089.9 485.6,1082.8 484.9,1079.1 483.6,1060.8 482.9,1055.6 479.8,1043.8 476.9,1030 472.9,1019.5ZM670,1016.7 706,1016.7 705.5,1023.7 703,1039.6 701.7,1042.8 700.2,1044.8 697.7,1046.8 695,1048.3 690.9,1049.7 687.9,1050.2 684.9,1050.2 681.9,1049.7 678.9,1048.7 675.9,1046.8 673.4,1043.8 672.3,1040.8 670.4,1023.7Z"/>
<path fill="#FF8C00" d="M91.7,1016.7 222.8,1016.7 221.2,1028.7 220.9,1039.7 221.2,1041.8 222.1,1043.8 225.1,1047.8 230.8,1052.8 234.1,1054.8 237.8,1056.3 244.8,1057.8 257.8,1059.1 263.1,1060.8 267.8,1063.8 270.8,1067.6 273.3,1073.8 275,1081.8 275.3,1107.9 198.7,1107.9 198.7,1106.9 195.7,1099.9 191.1,1084.9 189,1079.8 185.7,1074.9 183.7,1073.6 181.7,1073.2 179.7,1073.8 177.7,1075.3 175.8,1077.8 174.3,1080.8 171.7,1089.4 167.6,1105.9 167.4,1107.9 91.7,1107.9ZM482.5,1016.7 634.3,1016.7 634.1,1040.8 633.4,1047.8 631.9,1052.8 630.8,1054.8 628.9,1056.7 623.9,1059.1 616.9,1060.4 603.9,1059.8 588.9,1057.2 570.9,1055.2 554.9,1051.9 548.9,1052.1 541.9,1053.3 534.9,1056 531.9,1057.8 528.9,1060.4 526.9,1063.6 523.9,1073.1 521.9,1076.2 519.9,1077.3 516.9,1078 512.9,1078.3 508.9,1077.9 493.9,1073.8 491.9,1072.6 489.9,1069.6 488.3,1063.8 485.5,1046.8 483.4,1028.7Z"/>
<path fill="#FF0000" d="M91.7,1016.7 192.7,1016.7 192.2,1018.7 186,1027.7 181.7,1034.9 173.7,1051.8 170.7,1055.7 166.7,1059.8 165.5,1061.8 164.2,1068.8 160.8,1107.9 124.3,1107.9 124.3,1106.9 120.6,1102.9 118.2,1098.9 116.3,1093.9 115.4,1089.9 115,1085.9 115.3,1081.8 118.9,1069.8 119.9,1062.8 119.6,1060.8 118.5,1058.8 116.7,1056.8 115.1,1055.8 112.7,1055.2 110.7,1055.7 109.7,1056.4 107.8,1058.8 104.7,1064.2 100.8,1067.8 96.3,1069.8 91.7,1070.5ZM485.3,1016.7 538.9,1016.7 538,1023.7 534.6,1032.7 524.9,1052.9 520.9,1062.1 518.9,1064.7 516.1,1066.8 510.9,1068.7 507.9,1069 504.9,1068.7 499.9,1067.5 496.9,1066.5 494.3,1064.8 492.9,1063.2 490.9,1057.8 487.9,1043.9ZM563.1,1016.7 631.7,1016.7 630.9,1038.4 630.2,1043.8 629.1,1046.8 627.9,1048.8 625.9,1050.7 620.9,1053.8 616.9,1054.8 610.9,1055 605.9,1054.5 602.9,1053.8 596.9,1050.9 579.6,1044.8 576,1042.8 573.9,1040.9 569.9,1034.7 564.6,1024.7 563.4,1020.7ZM213.7,1064.8 224.8,1064.5 235.3,1066.8 245.8,1066.6 251.8,1067 257.8,1068.2 262.8,1070.8 264.8,1072.7 266.3,1074.8 267.6,1077.8 268.4,1080.8 270,1097.9 270.5,1107.9 224.3,1107.9 224.3,1106.9 223.2,1105.9 215.3,1099.9 209.7,1094.9 206.8,1090.9 205.6,1087.9 205.1,1083.8 205.2,1076.8 205.6,1071.8 206.4,1068.8 207.6,1066.8 208.7,1066Z"/>
<path fill="#D80000" d="M111,1016.7 167.5,1016.7 166.9,1028.7 166.2,1034.7 165.1,1039.7 161.3,1047.8 159.1,1053.8 154.3,1074.8 149.9,1087.9 146.7,1095.6 145.3,1097.9 143.7,1099.4 141.7,1099.8 140.7,1099.3 138.7,1097.4 135.2,1091.9 132.6,1086.9 131.5,1080.8 130.8,1061.8 130.1,1057.8 129.4,1055.8 128,1053.8 118.8,1044.8 116.1,1041.8 114.9,1039.7 113.3,1034.7 111.9,1028.7 111.2,1022.7ZM488.4,1016.7 525.4,1016.7 524.7,1032.7 523.5,1042.8 521.6,1047.8 518.9,1052.8 515.9,1056.6 512.9,1058.8 508.9,1060.3 506.9,1060.5 503.9,1060.1 499.9,1058.3 497,1054.8 494.5,1048.8 490.5,1034.7 489.1,1026.7ZM592.9,1016.7 627.1,1016.7 626.6,1028.7 625.3,1038.7 624,1042.8 620.9,1047.1 618.9,1048.5 616.9,1049.3 610.9,1050 604.9,1049 602.9,1048 601.4,1046.8 597.7,1041.8 595.5,1035.7 593.4,1025.7ZM239.8,1076.8 244.8,1075.2 247.8,1075 252.8,1076 255.8,1077.3 257.8,1078.8 260.1,1081.8 260.8,1084.1 260.8,1088.9 260.5,1092.9 259.8,1096.6 258.8,1098.9 257.5,1100.9 255.8,1102.4 253.8,1103.5 250.8,1104.3 247.8,1104.6 244.8,1104.4 242.8,1103.8 240.8,1102.7 238.6,1100.9 236.4,1097.9 234.9,1094.9 233.1,1087.9 233,1084.9 233.4,1082.8 234.6,1080.8 236.7,1078.8Z"/>
<path fill="#900000" d="M127.3,1016.7 162.6,1016.7 162.2,1019.7 160.7,1024.8 152.3,1046.8 148.4,1063.8 145.7,1069.3 143.7,1071.5 142.7,1071.8 141.7,1071.6 140.7,1070.8 138.7,1067.3 137.2,1061.8 135.3,1049.8 134.4,1045.8 132.7,1042.2 129.7,1038.1 128.8,1035.7 127.8,1028.7ZM490.6,1016.7 522.1,1016.7 521.3,1029.7 519.4,1038.7 517.6,1043.8 515.9,1047.4 513.9,1050 511.9,1051.5 508.9,1052.7 505.9,1052.7 502.9,1051.5 500.3,1048.8 498.5,1044.8 491.9,1025.7 490.9,1020.4ZM603.1,1016.7 620.8,1016.7 620.1,1025.7 617.9,1036.4 616.2,1040.8 615.1,1041.8 613.1,1042.8 610.9,1043.1 608.6,1042.8 606.7,1041.8 605.3,1039.7 603.8,1028.7Z"/>
<path fill="#FF00FF" d="M130.9,1016.7 148.6,1016.7 148.6,1017.7 147.6,1019.7 144.7,1022.9 142.7,1024.2 139.7,1024.7 135.7,1023.4 132.7,1021.4 131.5,1019.7ZM493.1,1016.7 519.2,1016.7 518.9,1020.3 517.9,1024.5 514.9,1034.7 512.3,1040.8 509.9,1043.4 507.9,1044.3 505.9,1043.9 504.3,1042.8 502.9,1041 500.9,1036.7 497.1,1025.7 493.4,1018.7Z"/>
</g>
<path d="M128.8,1017.7V1106.9M164.9,1017.7V1106.9M201.0,1017.7V1106.9M237.2,1017.7V1106.9M273.3,1017.7V1106.9M309.4,1017.7V1106.9M345.5,1017.7V1106.9M381.6,1017.7V1106.9M417.7,1017.7V1106.9M453.8,1017.7V1106.9M490.0,1017.7V1106.9M526.1,1017.7V1106.9M562.2,1017.7V1106.9M598.3,1017.7V1106.9M634.4,1017.7V1106.9M670.5,1017.7V1106.9M706.7,1017.7V1106.9M742.8,1017.7V1106.9M778.9,1017.7V1106.9M92.7,1062.3H815.0" stroke="#000" stroke-opacity="0.6" stroke-width="1.3" fill="none"/>
<rect x="92.7" y="1017.7" width="722.3" height="89.2" stroke="#222" stroke-opacity="0.85" stroke-width="1.4" fill="none"/>
<path d="M92.7,1106.9V1122.4M128.8,1106.9V1122.4M164.9,1106.9V1122.4M201.0,1106.9V1122.4M237.2,1106.9V1122.4M273.3,1106.9V1122.4M309.4,1106.9V1122.4M345.5,1106.9V1122.4M381.6,1106.9V1122.4M417.7,1106.9V1122.4M453.8,1106.9V1122.4M490.0,1106.9V1122.4M526.1,1106.9V1122.4M562.2,1106.9V1122.4M598.3,1106.9V1122.4M634.4,1106.9V1122.4M670.5,1106.9V1122.4M706.7,1106.9V1122.4M742.8,1106.9V1122.4M778.9,1106.9V1122.4M815.0,1106.9V1122.4M77.2,1017.7H92.7M77.2,1062.3H92.7M77.2,1106.9H92.7" stroke="#4a4a4a" stroke-opacity="0.85" stroke-width="1.6" fill="none" filter="url(#tsoft)"/>
<g font-family="'Liberation Sans',sans-serif" font-size="30.5" fill="#1c1c1c" text-anchor="middle" filter="url(#tsoft)">
<text transform="translate(92.1 1154.9) scale(0.95 1)">0</text>
<text transform="translate(164.3 1154.9) scale(0.95 1)">9</text>
<text transform="translate(236.6 1154.9) scale(0.95 1)">18</text>
<text transform="translate(308.8 1154.9) scale(0.95 1)">27</text>
<text transform="translate(381.0 1154.9) scale(0.95 1)">36</text>
<text transform="translate(453.2 1154.9) scale(0.95 1)">45</text>
<text transform="translate(525.5 1154.9) scale(0.95 1)">54</text>
<text transform="translate(597.7 1154.9) scale(0.95 1)">63</text>
<text transform="translate(669.9 1154.9) scale(0.95 1)">72</text>
<text transform="translate(742.2 1154.9) scale(0.95 1)">81</text>
<text transform="translate(814.4 1154.9) scale(0.95 1)">90</text>
</g>
<g font-family="'Liberation Sans',sans-serif" font-size="30.5" fill="#1c1c1c" text-anchor="end" filter="url(#tsoft)">
<text transform="translate(71.1 1118.1) scale(0.95 1)">0</text>
<text transform="translate(68.1 1028.9) scale(0.95 1)">11</text>
</g>
<text font-family="'Liberation Sans',sans-serif" font-size="30" fill="#1c1c1c" text-anchor="middle" filter="url(#tsoft)" transform="translate(453.2 1195.5) scale(0.945 1)">Distance (m)</text>
<text font-family="'Liberation Sans',sans-serif" font-size="30" fill="#1c1c1c" text-anchor="middle" filter="url(#tsoft)" transform="translate(24.7 1063.5) rotate(-90) scale(0.962 1)">Distance (m)</text>
<g filter="url(#soft)">
<rect x="838.2" y="967.80" width="19.7" height="18.65" fill="#9060E0"/>
<rect x="838.2" y="986.15" width="19.7" height="18.65" fill="#FF00FF"/>
<rect x="838.2" y="1004.50" width="19.7" height="18.65" fill="#900000"/>
<rect x="838.2" y="1022.85" width="19.7" height="18.65" fill="#D80000"/>
<rect x="838.2" y="1041.20" width="19.7" height="18.65" fill="#FF0000"/>
<rect x="838.2" y="1059.55" width="19.7" height="18.65" fill="#FF8C00"/>
<rect x="838.2" y="1077.90" width="19.7" height="18.65" fill="#FFFF00"/>
<rect x="838.2" y="1096.25" width="19.7" height="18.65" fill="#006000"/>
<rect x="838.2" y="1114.60" width="19.7" height="18.65" fill="#008E00"/>
<rect x="838.2" y="1132.95" width="19.7" height="18.65" fill="#00C400"/>
<rect x="838.2" y="1151.30" width="19.7" height="18.65" fill="#00F600"/>
<rect x="838.2" y="1169.65" width="19.7" height="18.65" fill="#0000FF"/>
<rect x="838.2" y="1188.00" width="19.7" height="18.65" fill="#0A8CFF"/>
<rect x="838.2" y="1206.35" width="19.7" height="18.65" fill="#00D2FF"/>
</g>
<g font-family="'Liberation Sans',sans-serif" font-size="18" fill="#404040" filter="url(#tsoft)">
<text transform="translate(883.8 955.8) scale(0.93 1)">32.0</text>
<text transform="translate(883.8 974.2) scale(0.93 1)">30.8</text>
<text transform="translate(883.8 992.5) scale(0.93 1)">29.6</text>
<text transform="translate(883.8 1010.9) scale(0.93 1)">28.4</text>
<text transform="translate(883.8 1029.2) scale(0.93 1)">27.2</text>
<text transform="translate(883.8 1047.6) scale(0.93 1)">26.0</text>
<text transform="translate(883.8 1065.9) scale(0.93 1)">24.8</text>
<text transform="translate(883.8 1084.3) scale(0.93 1)">23.6</text>
<text transform="translate(883.8 1102.6) scale(0.93 1)">22.4</text>
<text transform="translate(883.8 1121.0) scale(0.93 1)">21.2</text>
<text transform="translate(883.8 1139.3) scale(0.93 1)">20.0</text>
<text transform="translate(883.8 1157.7) scale(0.93 1)">18.8</text>
<text transform="translate(883.8 1176.0) scale(0.93 1)">17.6</text>
<text transform="translate(883.8 1194.4) scale(0.93 1)">16.4</text>
<text transform="translate(883.8 1212.7) scale(0.93 1)">15.2</text>
<text transform="translate(883.8 1231.1) scale(0.93 1)">14.0</text>
</g>
</g>
<g>
<clipPath id="c_p6"><rect x="1069.6" y="971.8" width="720.6" height="190.0"/></clipPath>
<g clip-path="url(#c_p6)" filter="url(#soft)">
<rect x="1067.6" y="969.8" width="724.6" height="194.0" fill="#0A8CFF"/>
<path fill="#0000FF" d="M1068.6,970.8 1791.2,970.8 1791.2,1162.8 1255.4,1162.8 1255.4,1161.8 1252.9,1159.8 1250.5,1158.7 1248.5,1158.4 1246.5,1158.8 1244.5,1159.9 1242.5,1161.8 1242.5,1162.8 1205.7,1162.8 1205.7,1161.8 1204.6,1159.8 1198.5,1150.9 1194.5,1146 1189.5,1141.4 1186.5,1139.8 1184.5,1139.4 1182.5,1139.6 1180.5,1140.5 1178.5,1142.1 1176.3,1144.8 1171.5,1153.3 1168.4,1160.8 1168.2,1162.8 1068.6,1162.8Z"/>
<path fill="#00F600" d="M1068.6,970.8 1791.2,970.8 1791.2,1162.8 1309.8,1162.8 1309.1,1159.8 1305.4,1152.8 1294.5,1135.3 1287.3,1119.8 1283.5,1114.8 1276.4,1108.8 1271.5,1105.9 1267.5,1104.4 1263.5,1103.5 1258.5,1103.4 1254.3,1103.8 1249.5,1104.9 1235.5,1110.4 1232.5,1110.8 1229.5,1110.4 1224.5,1107.7 1212.5,1097.8 1199.5,1090.1 1197.5,1088.4 1192.5,1082.7 1189.5,1080.1 1186.5,1078.5 1182.5,1077.7 1179.5,1078.2 1177.5,1079 1172.5,1082.9 1153.6,1105.8 1149.3,1111.8 1147.6,1115.9 1141.4,1136.8 1138.7,1152.8 1138,1162.8 1068.6,1162.8Z"/>
<path fill="#00C400" d="M1068.6,970.8 1791.2,970.8 1791.2,1162.8 1391.7,1162.8 1391.4,1160.8 1376,1123.8 1374.5,1118.8 1374,1113.8 1375.2,1106.8 1380.9,1087.8 1388.4,1070.8 1396.5,1050.8 1397.7,1044.8 1397.4,1039.6 1391,1016.8 1383.4,998.6 1379,990.8 1374.4,985.7 1368.4,981.6 1361.4,979 1353.4,978 1347.4,978.5 1342.8,979.8 1339,981.8 1335.5,984.9 1329.7,992.8 1314.8,1017.8 1312.7,1022.8 1308.4,1035.8 1305.5,1041.2 1302.1,1044.8 1296.6,1048.8 1290.5,1052 1283.5,1054.6 1277.5,1056.1 1271.5,1057.1 1257.5,1058 1243.5,1057.3 1238.5,1056.4 1234.5,1055.1 1230.5,1053.2 1227.5,1051.3 1224.7,1048.8 1222,1045.8 1219.4,1041.8 1214.1,1029.8 1211.1,1025.8 1208.5,1023.9 1206.5,1023.3 1204.5,1023.4 1202.5,1024.2 1200.5,1025.7 1198.5,1028.2 1192.5,1039.8 1189.5,1043.3 1184.4,1045.8 1168.5,1051 1164.5,1053.2 1160.5,1056.4 1149.6,1069.8 1139.6,1083.7 1137.2,1087.8 1135.2,1092.8 1129.6,1115.6 1115,1158.8 1114.1,1162.8 1068.6,1162.8Z"/>
<path fill="#008E00" d="M1068.6,970.8 1299.1,970.8 1299.1,971.8 1298.2,983.8 1296.2,994.8 1295.1,997.8 1290.5,1006 1285.4,1016.8 1281.5,1022.8 1276.1,1028.8 1270.5,1032.7 1265.5,1034.5 1260.5,1034.8 1257.5,1034.3 1254.5,1033.2 1249.5,1030.2 1245,1025.8 1239.1,1017.8 1231.5,1003.8 1225.5,994.5 1220,981.8 1217.9,977.8 1215.5,975.2 1212.5,973.9 1210.5,973.9 1207.5,974.8 1204.5,976.8 1202.5,978.7 1187.2,1000.8 1180.7,1014.8 1178.3,1018.8 1175.6,1021.8 1171.8,1024.8 1168.2,1026.8 1164.5,1028.2 1159.6,1029.4 1155.6,1029.6 1150.6,1029.1 1145.6,1027.7 1141.6,1025.9 1138,1023.8 1123.4,1012.8 1119.6,1010.8 1115.6,1009.4 1109.6,1008.9 1102.6,1009.7 1095.8,1011.8 1091.6,1014.4 1089.3,1016.8 1088,1019.8 1085.6,1034.6 1085.2,1043.8 1085.8,1045.8 1087.8,1048.8 1091.6,1052.3 1100.1,1058.8 1102.7,1061.8 1104.3,1064.8 1106.1,1071.8 1107.4,1080.8 1107.9,1088.8 1107.6,1094.4 1106.3,1099.8 1101.6,1115.5 1092.2,1143.8 1089,1156.8 1088,1162.8 1068.6,1162.8ZM1396.1,970.8 1791.2,970.8 1791.2,1162.8 1665,1162.8 1664.9,1133.8 1664,1122.8 1662.6,1112.8 1660.1,1107.8 1657.5,1104.8 1655.3,1102.8 1651.3,1100.7 1646.3,1099.9 1641.3,1100.9 1636,1103.8 1630.6,1108.8 1627.3,1113.8 1624.7,1121.8 1621.1,1137.8 1618.2,1152.8 1617.1,1162.8 1434,1162.8 1433.6,1153.8 1432.4,1141.6 1429.1,1119.8 1422.2,1091.8 1417.7,1065.8 1412.4,1052 1410.6,1045.8 1402.3,996.8 1399.4,983.4 1396.1,971.8Z"/>
<path fill="#006000" d="M1418.1,970.8 1791.2,970.8 1791.2,1162.8 1688.9,1162.8 1687.9,1154.8 1684.9,1137.8 1679.7,1117.8 1676.9,1098.8 1675.3,1091.8 1666.3,1067.5 1663.3,1063 1661.3,1061.5 1660.3,1061.3 1658.3,1062 1653.9,1066.8 1650.4,1069.8 1638.3,1077.5 1632.3,1082 1623.3,1090.3 1618.3,1096.7 1610.1,1111.8 1605.7,1122.8 1599.3,1144.3 1595.5,1159.8 1595.1,1162.8 1464.8,1162.8 1463.4,1152 1460.8,1137.8 1454,1110.8 1447.1,1090.8 1441.6,1068.8 1438.6,1058.8 1436.1,1052.8 1430.4,1043.8 1428.7,1038.8 1427.6,1032.8 1425.3,1014.8Z"/>
<path fill="#FFFF00" d="M1437.2,970.8 1774.9,970.8 1773.5,978.8 1770.2,991.5 1768.2,997.8 1763.9,1007.8 1762.1,1013.8 1758.3,1038.8 1758.1,1042.8 1758.3,1045.8 1761.5,1058.8 1763.9,1070.8 1767,1082.8 1767.9,1087.8 1768,1091.8 1767.3,1097.8 1764.5,1111.8 1761.8,1127.8 1754.7,1152.8 1753.4,1158.8 1753.1,1162.8 1716.7,1162.8 1716.7,1161.8 1715.9,1159.8 1704.4,1140.8 1700.2,1131.3 1696.4,1119.8 1695.2,1114.8 1692.7,1099.8 1692.1,1089.8 1693,1068.8 1692.9,1058.8 1692.4,1046.8 1691.5,1040.8 1680.6,1015.8 1678,1010.8 1675.6,1007.8 1673.3,1006.1 1671.3,1005.2 1668.3,1004.8 1665.3,1005.2 1661.5,1006.8 1658.8,1008.8 1656,1011.8 1648.3,1023 1631.5,1043.8 1622.6,1058.8 1613.3,1072.4 1610.5,1077.8 1604.8,1090.8 1595.2,1105.8 1590.8,1114.8 1587.8,1122.8 1576.9,1155.8 1575.3,1160.8 1575.1,1162.8 1475.1,1162.8 1474.6,1152.8 1473.1,1138.8 1469.1,1116.8 1469.2,1108.8 1470.8,1092.8 1470.8,1083.8 1469.8,1064.8 1467.8,1050.8 1465.6,1041.8 1464.2,1038.8 1462.1,1035.8 1457.4,1031.5 1446.8,1024.8 1444.8,1022.8 1443.6,1020.8 1442.5,1014.8 1440.9,993.8Z"/>
<path fill="#FF8C00" d="M1473.2,970.8 1640.9,970.8 1640.5,973.8 1638.9,978.8 1634.2,989.8 1624.6,1007.8 1616.3,1020.7 1609.8,1034.8 1603.3,1046.2 1593.5,1065.8 1586.6,1080.8 1577.3,1097.4 1570.5,1110.8 1559.1,1137.8 1555.8,1152.8 1555,1162.8 1492.9,1162.8 1488.7,1136.8 1484.6,1123.8 1483.3,1117.8 1483,1092.8 1483.2,1087.8 1483.9,1083.8 1489.4,1068.8 1493.5,1047.8 1494,1040.8 1493.9,1018.8 1493.4,1016.3 1492.4,1013.8 1487.6,1005.8 1484.7,999.8 1473.8,973.8ZM1709.1,970.8 1730.7,970.8 1730.7,971.8 1724.2,982.5 1722.2,984.2 1719.2,984.9 1716.2,984.1 1713.2,981.1 1709.7,973.8ZM1726.7,1007.8 1729.2,1007.2 1732.2,1008.8 1735.2,1012.8 1736.7,1016.8 1736.7,1020.8 1735.5,1023.8 1733.2,1026.5 1730.2,1028 1728.2,1027.8 1726.2,1026.4 1724.3,1023.8 1723.2,1020.8 1723,1016.8 1723.7,1012.8 1724.9,1009.8ZM1724.7,1067.8 1728.2,1067 1731.2,1066.9 1734.2,1067.3 1736.2,1068.2 1738.5,1070.8 1740,1076.8 1742.7,1107.8 1742.8,1115.8 1741.3,1119.8 1739,1122.8 1735.2,1125.6 1732.2,1126.6 1730.2,1126.5 1727.2,1124.9 1725.1,1122.8 1722.7,1118.8 1721.4,1115.8 1719.8,1109.8 1717.5,1097.8 1717.1,1086.8 1718.3,1075.8 1719.2,1072.7 1720.3,1070.8 1722.2,1068.9Z"/>
<path fill="#FF0000" d="M1503.1,970.8 1612,970.8 1611.7,975.8 1610.6,981.8 1607.5,993.8 1605.8,998.8 1595.3,1022.8 1588.3,1035.9 1580.7,1048.8 1573.4,1067.8 1565.8,1080.8 1561.8,1088.8 1557.6,1098.8 1553.1,1113.8 1551.2,1118.8 1548.3,1123.9 1540.4,1135.8 1534.1,1146.8 1530.8,1151.8 1528.3,1154.6 1526.3,1156.1 1523.3,1157.7 1520.3,1158.3 1517.4,1157.9 1514.4,1156.2 1511.4,1152.8 1508.7,1148.8 1503.9,1139.8 1499.4,1130.1 1496.3,1121.8 1495.1,1115.8 1495,1093.8 1495.5,1087.8 1504.3,1063.8 1507.4,1057.9 1514,1046.8 1515,1042.8 1515,1019.8 1514.5,1013.8 1513.1,1007.8 1509.4,996.8 1506.4,985.6 1503.4,973.8Z"/>
<path fill="#D80000" d="M1535,970.8 1576.9,970.8 1576.7,972.8 1570.3,994.8 1566.9,1012.8 1565.2,1018.8 1563.3,1022.8 1560.4,1026.8 1558.2,1028.8 1555.3,1030.3 1553.3,1030.6 1551.3,1030.2 1548.3,1028.3 1545,1023.8 1542.8,1018.8 1540.7,1010.8 1538.6,999.8 1536.1,981.8ZM1528.5,1080.8 1530.3,1080.1 1532.4,1080.8 1534.3,1083.3 1535.6,1087.8 1535.9,1091.8 1535.4,1098.8 1533.2,1112.8 1531.8,1117.8 1530.2,1120.8 1528.3,1123.1 1524.3,1126.3 1522.3,1126.9 1520.3,1126.9 1518.4,1126.1 1516.4,1124.6 1512.7,1119.8 1511.2,1115.8 1511.4,1110.8 1512.8,1105.8 1515.4,1100.3 1524.8,1084.8 1526.3,1082.7Z"/>
</g>
<path d="M1105.6,971.8V1161.8M1141.7,971.8V1161.8M1177.7,971.8V1161.8M1213.7,971.8V1161.8M1249.8,971.8V1161.8M1285.8,971.8V1161.8M1321.8,971.8V1161.8M1357.8,971.8V1161.8M1393.9,971.8V1161.8M1429.9,971.8V1161.8M1465.9,971.8V1161.8M1502.0,971.8V1161.8M1538.0,971.8V1161.8M1574.0,971.8V1161.8M1610.0,971.8V1161.8M1646.1,971.8V1161.8M1682.1,971.8V1161.8M1718.1,971.8V1161.8M1754.2,971.8V1161.8M1069.6,1066.8H1790.2" stroke="#000" stroke-opacity="0.6" stroke-width="1.3" fill="none"/>
<rect x="1069.6" y="971.8" width="720.6" height="190.0" stroke="#222" stroke-opacity="0.85" stroke-width="1.4" fill="none"/>
<path d="M1069.6,1161.8V1177.3M1105.6,1161.8V1177.3M1141.7,1161.8V1177.3M1177.7,1161.8V1177.3M1213.7,1161.8V1177.3M1249.8,1161.8V1177.3M1285.8,1161.8V1177.3M1321.8,1161.8V1177.3M1357.8,1161.8V1177.3M1393.9,1161.8V1177.3M1429.9,1161.8V1177.3M1465.9,1161.8V1177.3M1502.0,1161.8V1177.3M1538.0,1161.8V1177.3M1574.0,1161.8V1177.3M1610.0,1161.8V1177.3M1646.1,1161.8V1177.3M1682.1,1161.8V1177.3M1718.1,1161.8V1177.3M1754.2,1161.8V1177.3M1790.2,1161.8V1177.3M1054.1,971.8H1069.6M1054.1,1066.8H1069.6M1054.1,1161.8H1069.6" stroke="#4a4a4a" stroke-opacity="0.85" stroke-width="1.6" fill="none" filter="url(#tsoft)"/>
<g font-family="'Liberation Sans',sans-serif" font-size="30.5" fill="#1c1c1c" text-anchor="middle" filter="url(#tsoft)">
<text transform="translate(1069.0 1209.5) scale(0.92 1)">0</text>
<text transform="translate(1141.1 1209.5) scale(0.92 1)">6</text>
<text transform="translate(1213.1 1209.5) scale(0.92 1)">12</text>
<text transform="translate(1285.2 1209.5) scale(0.92 1)">18</text>
<text transform="translate(1357.2 1209.5) scale(0.92 1)">24</text>
<text transform="translate(1429.3 1209.5) scale(0.92 1)">30</text>
<text transform="translate(1501.4 1209.5) scale(0.92 1)">36</text>
<text transform="translate(1573.4 1209.5) scale(0.92 1)">42</text>
<text transform="translate(1645.5 1209.5) scale(0.92 1)">48</text>
<text transform="translate(1717.5 1209.5) scale(0.92 1)">54</text>
<text transform="translate(1789.6 1209.5) scale(0.92 1)">60</text>
</g>
<g font-family="'Liberation Sans',sans-serif" font-size="30.5" fill="#1c1c1c" text-anchor="end" filter="url(#tsoft)">
<text transform="translate(1046.3 1173.2) scale(0.92 1)">0</text>
<text transform="translate(1046.3 1078.2) scale(0.92 1)">8</text>
<text transform="translate(1046.3 983.2) scale(0.92 1)">16</text>
</g>
<text font-family="'Liberation Sans',sans-serif" font-size="30" fill="#1c1c1c" text-anchor="middle" filter="url(#tsoft)" transform="translate(1429.3 1249.9) scale(0.922 1)">Distance (m)</text>
<text font-family="'Liberation Sans',sans-serif" font-size="30" fill="#1c1c1c" text-anchor="middle" filter="url(#tsoft)" transform="translate(1003.1 1068.0) rotate(-90) scale(0.962 1)">Distance (m)</text>
<g filter="url(#soft)">
<rect x="1812.9" y="969.30" width="20.1" height="18.50" fill="#9060E0"/>
<rect x="1812.9" y="987.50" width="20.1" height="18.50" fill="#FF00FF"/>
<rect x="1812.9" y="1005.70" width="20.1" height="18.50" fill="#900000"/>
<rect x="1812.9" y="1023.90" width="20.1" height="18.50" fill="#D80000"/>
<rect x="1812.9" y="1042.10" width="20.1" height="18.50" fill="#FF0000"/>
<rect x="1812.9" y="1060.30" width="20.1" height="18.50" fill="#FF8C00"/>
<rect x="1812.9" y="1078.50" width="20.1" height="18.50" fill="#FFFF00"/>
<rect x="1812.9" y="1096.70" width="20.1" height="18.50" fill="#006000"/>
<rect x="1812.9" y="1114.90" width="20.1" height="18.50" fill="#008E00"/>
<rect x="1812.9" y="1133.10" width="20.1" height="18.50" fill="#00C400"/>
<rect x="1812.9" y="1151.30" width="20.1" height="18.50" fill="#00F600"/>
<rect x="1812.9" y="1169.50" width="20.1" height="18.50" fill="#0000FF"/>
<rect x="1812.9" y="1187.70" width="20.1" height="18.50" fill="#0A8CFF"/>
<rect x="1812.9" y="1205.90" width="20.1" height="18.50" fill="#00D2FF"/>
</g>
<g font-family="'Liberation Sans',sans-serif" font-size="18" fill="#404040" filter="url(#tsoft)">
<text transform="translate(1859.4 957.5) scale(0.865 1)">29.0</text>
<text transform="translate(1859.4 975.7) scale(0.865 1)">28.4</text>
<text transform="translate(1859.4 993.9) scale(0.865 1)">27.8</text>
<text transform="translate(1859.4 1012.1) scale(0.865 1)">27.2</text>
<text transform="translate(1859.4 1030.3) scale(0.865 1)">26.6</text>
<text transform="translate(1859.4 1048.5) scale(0.865 1)">26.0</text>
<text transform="translate(1859.4 1066.7) scale(0.865 1)">25.4</text>
<text transform="translate(1859.4 1084.9) scale(0.865 1)">24.8</text>
<text transform="translate(1859.4 1103.1) scale(0.865 1)">24.2</text>
<text transform="translate(1859.4 1121.3) scale(0.865 1)">23.6</text>
<text transform="translate(1859.4 1139.5) scale(0.865 1)">23.0</text>
<text transform="translate(1859.4 1157.7) scale(0.865 1)">22.4</text>
<text transform="translate(1859.4 1175.9) scale(0.865 1)">21.8</text>
<text transform="translate(1859.4 1194.1) scale(0.865 1)">21.2</text>
<text transform="translate(1859.4 1212.3) scale(0.865 1)">20.6</text>
<text transform="translate(1859.4 1230.5) scale(0.865 1)">20.0</text>
</g>
</g>
<g>
<clipPath id="c_p7"><rect x="94.3" y="1453.4" width="726.0" height="89.9"/></clipPath>
<g clip-path="url(#c_p7)" filter="url(#soft)">
<rect x="92.3" y="1451.4" width="730.0" height="93.9" fill="#00D2FF"/>
<path fill="#0A8CFF" d="M93.3,1452.4 821.3,1452.4 821.3,1544.3 752,1544.3 751.8,1538.3 750.9,1531.3 749.3,1524.6 747.6,1520.3 745.3,1517.7 742.3,1515.8 739.3,1514.7 735.3,1514.3 731.3,1514.9 727.4,1516.3 724.2,1518.3 722.5,1520.3 721.3,1523.4 719.3,1532.3 718.3,1538.8 718.1,1544.3 631.7,1544.3 631.3,1542.3 629.3,1539.4 627.3,1537.3 625.3,1536.4 623.3,1537 622,1538.3 620.5,1541.3 620.1,1544.3 93.3,1544.3Z"/>
<path fill="#0000FF" d="M93.3,1452.4 821.3,1452.4 821.3,1544.3 771.7,1544.3 771.7,1543.3 768.9,1535.3 765.1,1517.3 763.3,1512.3 761.3,1508.5 758.3,1504.8 754.3,1501.9 749.3,1499.9 744.3,1499.3 739.3,1499.9 733.3,1502 719.3,1508 715,1511.3 712.8,1514.3 710.9,1518.3 705.4,1537.3 704.3,1540.1 702.4,1543.3 702.4,1544.3 657.2,1544.3 657.2,1543.3 650.7,1537.3 641.3,1524.4 637.4,1520.3 633.3,1517.1 628.3,1514.1 622.3,1511.4 618.3,1510.6 614.4,1511.3 611.3,1513 608.6,1515.3 606.3,1518.4 605,1521.3 603.3,1527.1 600.2,1544.3 93.3,1544.3Z"/>
<path fill="#00F600" d="M93.3,1452.4 821.3,1452.4 821.3,1544.3 781.9,1544.3 781.4,1541.3 777.2,1528.3 776.2,1522.3 776.5,1515.3 779.5,1502.3 779.7,1498.3 779.3,1494.3 777.4,1489.4 774.3,1484.3 767.3,1474.5 765.3,1472.5 764.3,1472.1 762.3,1473.1 756.5,1479.4 752.1,1482.4 747.5,1484.4 732.3,1489.5 718.3,1496.7 710.3,1499.6 706.9,1501.3 704.8,1503.3 703.6,1505.3 702.5,1508.3 700.2,1517.3 699.3,1519.7 697.3,1522.8 694.3,1525.8 690.3,1528.6 686.3,1530.4 682.3,1531.4 678.3,1531.3 674.3,1530.1 669.3,1527.5 663.3,1523.3 659.6,1520.3 657.8,1518.3 650.4,1507.3 648.2,1505.3 645.3,1503.3 633.3,1498 623.3,1492.3 619.3,1491.7 613.3,1493.3 608.3,1495.7 603.3,1498.9 601.3,1501 599.3,1504.3 597.6,1509.3 595.3,1519.3 590.8,1535.3 589.1,1544.3 93.3,1544.3Z"/>
<path fill="#00C400" d="M93.3,1452.4 618.1,1452.4 618.1,1453.4 617,1458.4 615,1464.4 612.7,1469.4 610.3,1473.2 602.4,1481.4 587.4,1494.4 585.3,1496.6 583.6,1499.3 580.8,1507.3 578.8,1516.3 576.9,1531.3 576,1544.3 513.8,1544.3 513,1541.3 509.3,1536.3 503.3,1531.7 497.3,1528.6 491.3,1526.9 481.3,1525.4 469.3,1524 460.3,1523.5 458.3,1523.6 456.3,1524.3 454.3,1526.4 452.4,1529.3 450.4,1533.3 449,1537.3 448,1544.3 123.8,1544.3 123.6,1540.3 122.4,1535.3 119.3,1524.9 117.3,1520.3 114.5,1518.3 108.5,1516.3 101.3,1515.1 93.3,1514.7ZM635.6,1452.4 728.1,1452.4 728.1,1455.4 726.8,1466.4 724.3,1475.4 722.7,1478.4 720.6,1481.4 718,1484.4 715.6,1486.4 708.3,1489.4 702.3,1490.9 687.3,1492.7 674.3,1492.9 664.3,1492 655.3,1489.8 650.3,1487.8 645.9,1484.4 640.8,1477.4 638.4,1472.4 636.5,1463.4ZM788.3,1452.4 821.3,1452.4 821.3,1544.3 792.3,1544.3 792.1,1519.3 791.6,1515.3 789,1504.3 788.4,1498.3 789.1,1491.4 791.9,1478.4 792,1470.4 791,1461.4 789.9,1457.4 788.3,1453.4Z"/>
<path fill="#008E00" d="M93.3,1452.4 605.8,1452.4 605.8,1453.4 603.8,1458.4 599.8,1465.4 589.2,1479.4 583.3,1485.4 570.8,1494.4 568.4,1497.4 567.4,1502.3 566.3,1517.3 565.3,1524.3 563.7,1531.3 560.4,1542.3 560.1,1544.3 534,1544.3 533.2,1532.3 530.7,1508.3 529.9,1502.3 528.9,1498.3 526.8,1495.4 520.3,1490.8 514.3,1487.7 509.3,1486.7 506.3,1487.2 503.3,1488.6 491.3,1497.5 482.3,1502 472.3,1505 455.3,1507.8 446.3,1510.9 441.3,1513.7 439.3,1515.5 437.3,1518.1 435.3,1523.3 433.1,1533.3 432.1,1544.3 134,1544.3 132.7,1535.3 129.4,1524.3 126.7,1518.3 124.4,1515.3 122.4,1513.3 119.3,1511.5 114.2,1510.3 103.3,1508.9 93.3,1508.3ZM643.1,1452.4 716.1,1452.4 715.8,1459.4 714.6,1467.4 713,1473.4 711.1,1477.4 707.5,1481.4 703.3,1484 696.3,1485.6 687.3,1486.5 680.3,1486.2 670.3,1484.8 664.3,1483.2 659.3,1481.1 654.9,1478.4 651.3,1475 648.3,1470.4 646.3,1465.8 643.8,1457.4Z"/>
<path fill="#006000" d="M93.3,1452.4 368,1452.4 366.2,1467.4 366.2,1475.4 366.9,1477.4 368.3,1478.8 371,1480.4 376.9,1482.4 384.3,1483.7 392.3,1484.1 402.3,1483.6 410.3,1482.6 420.3,1480.1 422.1,1479.4 423.2,1478.4 423.9,1475.4 423.4,1465.4 422.6,1460.4 420.2,1453.4 420.2,1452.4 593.5,1452.4 593.5,1453.4 587.3,1460.8 578.3,1475.2 576.3,1477.4 570,1481.4 553.3,1489.9 550.3,1490.9 547.3,1490.9 545.3,1489.9 534.3,1480.2 519.3,1470 514.3,1467.7 510.3,1467.1 507.3,1467.5 504.3,1468.7 494.7,1475.4 485.9,1480.4 477.3,1484.8 469.3,1487.9 463.3,1489.7 457.3,1490.9 442.3,1492.7 433.3,1493.2 431.3,1493.7 429.3,1495.4 428.6,1497.4 425.3,1512.9 423.7,1524.3 422.1,1544.3 146,1544.3 145.5,1541.3 143.5,1534.3 138.8,1522.3 134.9,1515.3 132.5,1512.3 130.3,1510.4 124.3,1506.8 119.3,1505 105.3,1502.9 93.3,1502ZM221.3,1461.3 219.3,1463.5 217.2,1468.4 216.2,1473.4 216.2,1478.4 217.2,1484.4 218.7,1488.4 220.1,1490.4 221.3,1491.3 223.3,1491.7 224.3,1491.3 226.2,1489.4 228.3,1485 229.7,1479.4 229.9,1473.4 228.8,1467.4 227.6,1464.4 226.4,1462.4 224.3,1460.8 223.3,1460.6ZM650.7,1452.4 707.7,1452.4 707.7,1453.4 707.3,1457.1 706.3,1460.4 702.3,1470.7 700,1475.4 697.8,1477.4 695.7,1478.4 692.3,1479.4 687.3,1479.9 682.3,1479.3 676.9,1477.4 673.4,1475.4 667.3,1471 662.3,1466.8 657.3,1461.7 651.3,1454.6 650.7,1453.4Z"/>
<path fill="#FFFF00" d="M93.3,1452.4 211,1452.4 208.9,1464.4 206.3,1496.3 206.3,1508.3 207.1,1520.3 206.7,1523.3 206,1525.3 192.9,1539.3 190.9,1542.3 190.5,1544.3 177.6,1544.3 177.2,1542.3 175.3,1540 173.1,1538.3 168.3,1536 164.3,1532.2 153.4,1516.3 149.4,1511.3 145.3,1507.3 139.3,1502.8 131.3,1498.4 114.3,1492.8 102.3,1489.7 93.3,1488.7ZM237.9,1452.4 348.8,1452.4 348,1464.4 348.1,1476.4 348.8,1478.4 350.8,1481.4 353.6,1484.4 357.4,1487.4 362.3,1489.9 368.3,1491.3 380.3,1492.6 399.3,1492.7 405.3,1493 412.9,1494.4 415.1,1495.4 416,1496.4 416.7,1498.3 416.7,1503.3 415.7,1527.3 414.1,1544.3 310.7,1544.3 309.7,1520.3 307.6,1495.4 306.8,1491.4 305.3,1487.4 301.6,1481.4 299.3,1479.1 297.3,1478 295.3,1477.8 293.3,1478.5 289.3,1481.5 281.3,1488.6 270.5,1501.3 265.7,1505.3 261.3,1507.5 256.3,1508.6 252.3,1508.5 248.3,1507.3 244.9,1505.3 242.6,1503.3 241.3,1501.3 240.6,1499.3 240.2,1494.4 239.7,1470.4Z"/>
<path fill="#FF8C00" d="M93.3,1452.4 204.1,1452.4 203.2,1474.4 202.1,1485.4 199.7,1499.3 197.2,1506.3 195.3,1509.5 193.3,1511.7 190.3,1514.1 187.3,1515.7 184.3,1516.6 181.3,1517 178.3,1516.6 175.3,1515.4 173.3,1514 172.1,1512.3 170.8,1509.3 168.3,1500.1 167.3,1498 165.3,1496.1 161.6,1494.4 152.3,1491.6 148.3,1489.8 143.3,1486.4 132.3,1476.7 123.3,1472.2 116.3,1469.7 108.3,1467.8 101.3,1466.9 93.3,1466.7ZM246.3,1452.4 280,1452.4 279.1,1461.4 275.7,1476.4 274,1479.4 271.3,1482.4 267.8,1485.4 264.3,1487.7 260.3,1489 257.3,1488.7 255.3,1487.4 253.1,1484.4 251,1479.4 249.4,1472.4ZM328.6,1491.4 332.3,1491.1 336.3,1492.2 348.3,1499.7 352.3,1501.5 356.3,1502.7 364.3,1503.8 379.3,1503.6 387.3,1504.2 394.3,1505.9 400.3,1508.8 402.3,1510.5 404.2,1513.3 405.3,1516.3 405.8,1519.3 405.6,1533.3 403.9,1544.3 328,1544.3 324.5,1523.3 322.2,1499.3 322.6,1496.4 323.7,1494.4 326.1,1492.4Z"/>
<path fill="#FF0000" d="M148,1452.4 199.9,1452.4 199.2,1471.4 198.6,1478.4 197.8,1483.4 196.3,1488.8 194.3,1494.1 192.3,1497.7 189.3,1501.1 186.3,1503.1 183.3,1503.9 180.3,1503.5 178.3,1502.5 176.3,1500.9 174.3,1498.4 170.8,1490.4 169.3,1488 167.3,1486.2 158.8,1481.4 155.6,1478.4 153.5,1474.4 149.9,1463.4 148.4,1457.4ZM377.1,1517.3 379.3,1516.8 381.3,1517.4 383.3,1519.3 383.9,1521.3 383.7,1525.3 383,1528.3 381.3,1531.3 379.3,1532.6 377.3,1532.3 376.2,1531.3 375.1,1529.3 374.2,1526.3 373.9,1522.3 374.2,1520.3 375.6,1518.3Z"/>
<path fill="#D80000" d="M168,1452.4 193.8,1452.4 193.3,1463.9 191.3,1478.4 190.2,1481.4 188.3,1484.5 186.3,1486.8 184.3,1488.1 183.3,1488.4 181.3,1488.2 178.5,1486.4 175.3,1482.4 172.6,1477.4 170.7,1471.4 169.1,1464.4 168.2,1458.4Z"/>
</g>
<path d="M130.6,1453.4V1543.3M166.9,1453.4V1543.3M203.2,1453.4V1543.3M239.5,1453.4V1543.3M275.8,1453.4V1543.3M312.1,1453.4V1543.3M348.4,1453.4V1543.3M384.7,1453.4V1543.3M421.0,1453.4V1543.3M457.3,1453.4V1543.3M493.6,1453.4V1543.3M529.9,1453.4V1543.3M566.2,1453.4V1543.3M602.5,1453.4V1543.3M638.8,1453.4V1543.3M675.1,1453.4V1543.3M711.4,1453.4V1543.3M747.7,1453.4V1543.3M784.0,1453.4V1543.3M94.3,1498.3H820.3" stroke="#000" stroke-opacity="0.6" stroke-width="1.3" fill="none"/>
<rect x="94.3" y="1453.4" width="726.0" height="89.9" stroke="#222" stroke-opacity="0.85" stroke-width="1.4" fill="none"/>
<path d="M94.3,1543.3V1558.8M130.6,1543.3V1558.8M166.9,1543.3V1558.8M203.2,1543.3V1558.8M239.5,1543.3V1558.8M275.8,1543.3V1558.8M312.1,1543.3V1558.8M348.4,1543.3V1558.8M384.7,1543.3V1558.8M421.0,1543.3V1558.8M457.3,1543.3V1558.8M493.6,1543.3V1558.8M529.9,1543.3V1558.8M566.2,1543.3V1558.8M602.5,1543.3V1558.8M638.8,1543.3V1558.8M675.1,1543.3V1558.8M711.4,1543.3V1558.8M747.7,1543.3V1558.8M784.0,1543.3V1558.8M820.3,1543.3V1558.8M78.8,1453.4H94.3M78.8,1498.3H94.3M78.8,1543.3H94.3" stroke="#4a4a4a" stroke-opacity="0.85" stroke-width="1.6" fill="none" filter="url(#tsoft)"/>
<g font-family="'Liberation Sans',sans-serif" font-size="30.5" fill="#1c1c1c" text-anchor="middle" filter="url(#tsoft)">
<text transform="translate(93.7 1591.3) scale(0.95 1)">0</text>
<text transform="translate(166.3 1591.3) scale(0.95 1)">9</text>
<text transform="translate(238.9 1591.3) scale(0.95 1)">18</text>
<text transform="translate(311.5 1591.3) scale(0.95 1)">27</text>
<text transform="translate(384.1 1591.3) scale(0.95 1)">36</text>
<text transform="translate(456.7 1591.3) scale(0.95 1)">45</text>
<text transform="translate(529.3 1591.3) scale(0.95 1)">54</text>
<text transform="translate(601.9 1591.3) scale(0.95 1)">63</text>
<text transform="translate(674.5 1591.3) scale(0.95 1)">72</text>
<text transform="translate(747.1 1591.3) scale(0.95 1)">81</text>
<text transform="translate(819.7 1591.3) scale(0.95 1)">90</text>
</g>
<g font-family="'Liberation Sans',sans-serif" font-size="30.5" fill="#1c1c1c" text-anchor="end" filter="url(#tsoft)">
<text transform="translate(72.7 1554.5) scale(0.95 1)">0</text>
<text transform="translate(69.7 1464.6) scale(0.95 1)">11</text>
</g>
<text font-family="'Liberation Sans',sans-serif" font-size="30" fill="#1c1c1c" text-anchor="middle" filter="url(#tsoft)" transform="translate(456.7 1632.4) scale(0.945 1)">Distance (m)</text>
<text font-family="'Liberation Sans',sans-serif" font-size="30" fill="#1c1c1c" text-anchor="middle" filter="url(#tsoft)" transform="translate(26.3 1499.5) rotate(-90) scale(0.962 1)">Distance (m)</text>
<g filter="url(#soft)">
<rect x="840.5" y="1408.40" width="18.0" height="18.81" fill="#9060E0"/>
<rect x="840.5" y="1426.91" width="18.0" height="18.81" fill="#FF00FF"/>
<rect x="840.5" y="1445.41" width="18.0" height="18.81" fill="#900000"/>
<rect x="840.5" y="1463.92" width="18.0" height="18.81" fill="#D80000"/>
<rect x="840.5" y="1482.43" width="18.0" height="18.81" fill="#FF0000"/>
<rect x="840.5" y="1500.94" width="18.0" height="18.81" fill="#FF8C00"/>
<rect x="840.5" y="1519.44" width="18.0" height="18.81" fill="#FFFF00"/>
<rect x="840.5" y="1537.95" width="18.0" height="18.81" fill="#006000"/>
<rect x="840.5" y="1556.46" width="18.0" height="18.81" fill="#008E00"/>
<rect x="840.5" y="1574.96" width="18.0" height="18.81" fill="#00C400"/>
<rect x="840.5" y="1593.47" width="18.0" height="18.81" fill="#00F600"/>
<rect x="840.5" y="1611.98" width="18.0" height="18.81" fill="#0000FF"/>
<rect x="840.5" y="1630.49" width="18.0" height="18.81" fill="#0A8CFF"/>
<rect x="840.5" y="1648.99" width="18.0" height="18.81" fill="#00D2FF"/>
</g>
<g font-family="'Liberation Sans',sans-serif" font-size="18" fill="#404040" filter="url(#tsoft)">
<text transform="translate(885.4 1396.3) scale(0.93 1)">24.0</text>
<text transform="translate(885.4 1414.8) scale(0.93 1)">23.2</text>
<text transform="translate(885.4 1433.3) scale(0.93 1)">22.4</text>
<text transform="translate(885.4 1451.8) scale(0.93 1)">21.6</text>
<text transform="translate(885.4 1470.3) scale(0.93 1)">20.8</text>
<text transform="translate(885.4 1488.8) scale(0.93 1)">20.0</text>
<text transform="translate(885.4 1507.3) scale(0.93 1)">19.2</text>
<text transform="translate(885.4 1525.8) scale(0.93 1)">18.4</text>
<text transform="translate(885.4 1544.3) scale(0.93 1)">17.6</text>
<text transform="translate(885.4 1562.8) scale(0.93 1)">16.8</text>
<text transform="translate(885.4 1581.4) scale(0.93 1)">16.0</text>
<text transform="translate(885.4 1599.9) scale(0.93 1)">15.2</text>
<text transform="translate(885.4 1618.4) scale(0.93 1)">14.4</text>
<text transform="translate(885.4 1636.9) scale(0.93 1)">13.6</text>
<text transform="translate(885.4 1655.4) scale(0.93 1)">12.8</text>
<text transform="translate(885.4 1673.9) scale(0.93 1)">12.0</text>
</g>
</g>
<g>
<clipPath id="c_p8"><rect x="1072.4" y="1409.2" width="716.2" height="188.3"/></clipPath>
<g clip-path="url(#c_p8)" filter="url(#soft)">
<rect x="1070.4" y="1407.2" width="720.2" height="192.3" fill="#00D2FF"/>
<path fill="#0A8CFF" d="M1071.4,1408.2 1789.6,1408.2 1789.6,1555.8 1783.6,1556.9 1771.6,1560.7 1764.6,1564.3 1759.4,1568.5 1755.3,1573.5 1751.1,1582.5 1748.1,1591.5 1747.1,1598.5 1071.4,1598.5Z"/>
<path fill="#0000FF" d="M1071.4,1408.2 1789.6,1408.2 1789.6,1542.4 1774.6,1544.2 1756.6,1547.4 1747,1550.4 1739.5,1554.4 1737.1,1556.4 1734.6,1559.4 1727.6,1571.9 1721.6,1578.3 1718.7,1582.5 1716,1589.5 1715.1,1594.5 1714.9,1598.5 1071.4,1598.5ZM1660.6,1423.1 1658.2,1425.2 1651.8,1434.2 1642.9,1444.3 1638.6,1451.3 1637.2,1455.3 1636.4,1461.3 1635.3,1472.3 1635.1,1480.3 1635.9,1483.3 1637.9,1486.3 1641.6,1489.8 1646.6,1493.2 1651.6,1495.7 1656.6,1497.4 1661.6,1498.4 1665.6,1498.4 1669.6,1497.9 1674.6,1496.4 1679.6,1494 1683.5,1491.3 1686.7,1488.3 1689.6,1484.3 1690.7,1481.3 1690.9,1478.3 1689.6,1471.3 1684.6,1455.3 1682.1,1449.3 1677.6,1440.4 1671.4,1430.2 1667.6,1425 1665.6,1423.3 1663.6,1422.4 1662.6,1422.4Z"/>
<path fill="#00F600" d="M1071.4,1408.2 1621.8,1408.2 1621.4,1410.2 1614.9,1425.2 1605.5,1450.1 1601,1471.3 1600,1480.3 1600.4,1486.3 1601.4,1492.3 1602.7,1497.3 1605,1503.3 1608.2,1509.4 1616.5,1521.4 1618.5,1525.4 1621.2,1541.4 1621.8,1547.4 1621.6,1550.4 1619.8,1552.4 1615.6,1554.3 1596.5,1559.2 1591.5,1563.1 1589.5,1563.9 1587.5,1563.4 1585.5,1561.6 1584.1,1559.4 1582.9,1556.4 1581.5,1554.7 1580.5,1554.2 1578.5,1554.7 1577.8,1555.4 1577.1,1557.4 1576.5,1570.3 1575.9,1574.5 1567.9,1595.5 1567.2,1598.5 1071.4,1598.5ZM1695.1,1408.2 1789.6,1408.2 1789.6,1533 1764.6,1533.3 1758.2,1532.4 1751.9,1530.4 1745.9,1527.4 1740.7,1523.4 1727.3,1507.4 1725.4,1504.4 1724.3,1500.3 1723,1481.3 1722.4,1477.3 1715.1,1462.3 1710.6,1449.6 1695.8,1411.2ZM1679.9,1529.4 1682.6,1529.3 1684.6,1529.9 1687.6,1533.1 1689.3,1536.4 1691.2,1541.4 1692.4,1545.4 1693,1549.4 1692.1,1552.4 1687,1557.4 1683,1559.4 1678.6,1560.1 1674.6,1559.4 1670.6,1557.4 1665.9,1552.4 1665,1549.4 1665.4,1546.4 1666.5,1542.4 1668.3,1538.4 1670.2,1535.4 1672.6,1532.9 1674.6,1531.4 1677.6,1530Z"/>
<path fill="#00C400" d="M1071.4,1408.2 1582.9,1408.2 1582.9,1409.2 1580.6,1424.2 1577.2,1441.3 1574.7,1451.3 1572.4,1457.3 1569.9,1460.3 1565.5,1463.5 1560.5,1466.1 1548.6,1471.3 1545.1,1473.3 1542.5,1475.3 1540.5,1478.3 1540.1,1481.3 1540.1,1504.4 1540.6,1508.4 1543.7,1522.4 1544,1530.4 1542.8,1540.4 1533.1,1598.5 1118.9,1598.5 1118.9,1597.5 1118.4,1597.2 1116.4,1596.3 1114.4,1596 1111.4,1596.3 1109.4,1596.9 1108.1,1597.5 1108.1,1598.5 1071.4,1598.5ZM1719,1408.2 1789.6,1408.2 1789.6,1522.1 1784.6,1521.6 1779.8,1520.4 1776.6,1519.2 1773.6,1517.1 1771.3,1514.4 1766.6,1505.9 1764.6,1503.2 1761.3,1500.3 1752.7,1494.3 1749.6,1491.3 1746.9,1487.3 1742.5,1479.3 1734.6,1469.5 1732.4,1465.3 1730,1459.3 1725.5,1445.3 1723,1433.2Z"/>
<path fill="#008E00" d="M1071.4,1408.2 1536.8,1408.2 1536.6,1410.2 1534.5,1415.5 1524.5,1438.2 1513.5,1459.6 1511.5,1465.3 1509.9,1471.3 1509.1,1477.3 1509.2,1483.3 1516.5,1521.6 1516.9,1527.4 1516.5,1536.4 1514.6,1552.4 1510.5,1568.9 1507.3,1578.5 1499.6,1596.5 1499.2,1598.5 1460.9,1598.5 1460.7,1596.5 1453.5,1574.9 1449.3,1560.4 1446.6,1555.4 1441.9,1551.4 1440.3,1548.4 1439,1543.4 1437.1,1532.4 1435.5,1527.5 1434,1525.4 1431.5,1523.8 1428.5,1523 1425.5,1522.8 1421.5,1523.2 1417.4,1524.4 1412.5,1526.6 1408.5,1529.3 1405.5,1532 1401.5,1536.6 1393.2,1548.4 1389.5,1556.2 1384.4,1572.5 1381.4,1586.5 1380,1598.5 1139.9,1598.5 1139.5,1596.5 1135.4,1588.5 1133.4,1585.3 1131,1582.5 1127.4,1579.6 1123.4,1577.4 1119.4,1575.9 1116.4,1575.5 1112.4,1576 1108.4,1577.4 1098.4,1582.5 1094.4,1584.9 1091.5,1587.5 1089.3,1590.5 1086.7,1595.5 1086.1,1598.5 1071.4,1598.5ZM1731,1408.2 1789.6,1408.2 1789.6,1509.4 1787.6,1509.1 1784.6,1508 1777.6,1503.8 1767.6,1493.9 1758.4,1486.3 1754,1481.3 1747.6,1471.3 1740.1,1461.3 1738.1,1456.3 1733.6,1436.2 1731.6,1419.5Z"/>
<path fill="#006000" d="M1071.4,1408.2 1472.4,1408.2 1472.4,1409.2 1465.1,1416.2 1458.5,1426.7 1456.5,1428.9 1455.5,1429.3 1454.5,1429.3 1453.5,1428.6 1449.5,1423.2 1447.5,1421.2 1443.5,1419.3 1441.5,1418.9 1439.5,1419.3 1436.5,1420.4 1433.7,1422.2 1429.3,1426.2 1423.6,1433.2 1409.3,1454.3 1406.5,1459.4 1401,1473.3 1393.1,1491.3 1385.2,1505.4 1380,1522.4 1371.8,1540.4 1366.5,1554.4 1360.9,1571.5 1351.2,1594.5 1350.2,1598.5 1275.9,1598.5 1275.1,1592.5 1271.7,1581.5 1269.5,1572.5 1267.7,1568.5 1264.8,1564.4 1255.5,1553.7 1246.4,1544.9 1243.4,1542.9 1241.4,1542.3 1238.4,1542.5 1235.4,1544 1227.9,1550.4 1214.9,1559.4 1207.4,1562.4 1200.4,1563.4 1190.4,1563 1184.4,1561.4 1179,1558.4 1163.4,1546.7 1158.4,1543.4 1151.4,1540.4 1144.4,1539.1 1130.4,1538.8 1103.4,1539 1098.4,1539.5 1093.4,1540.8 1088.4,1542.9 1073.4,1552.1 1071.4,1552.6ZM1742.9,1408.2 1789.6,1408.2 1789.6,1497.6 1785.6,1496.8 1780.6,1494.6 1775.6,1491.8 1770.6,1488.1 1765.9,1483.3 1755.6,1470.9 1750.7,1463.3 1748.2,1457.3 1746.7,1449.3 1744,1423.2Z"/>
<path fill="#FFFF00" d="M1071.4,1408.2 1397,1408.2 1397,1409.2 1394.1,1424.2 1385.4,1458.3 1380.5,1473.4 1368.5,1504.4 1355.8,1527.4 1353.3,1533.4 1349.3,1545.4 1345.7,1552.4 1338.6,1561.4 1331.5,1568.8 1328.5,1571.2 1325.5,1573 1321.5,1573.9 1319.5,1573.6 1316.5,1572.4 1311.5,1568.8 1305,1562.4 1295.8,1551.4 1291.1,1544.4 1283.8,1528.4 1281.2,1524.4 1278.5,1521.2 1274.3,1517.4 1269.9,1514.4 1265.5,1512.2 1260.5,1510.8 1256.5,1510.2 1252.5,1510.2 1234.4,1512.7 1225.4,1513.3 1204.4,1511.7 1189.4,1511.1 1156.4,1510.5 1136.4,1510.7 1119.4,1512.1 1098.4,1514.6 1087.4,1516.6 1073.4,1520.3 1071.4,1520.5ZM1751.1,1408.2 1789.6,1408.2 1789.6,1486.9 1786.6,1486.6 1782.4,1485.3 1777.6,1482.9 1773.6,1480.2 1770.6,1477.1 1765.6,1470.3 1759.7,1463.3 1757.2,1459.3 1755.9,1455.3 1754.5,1446.3 1752.1,1422.2Z"/>
<path fill="#FF8C00" d="M1071.4,1408.2 1372,1408.2 1372,1409.2 1370.5,1428.2 1367.8,1447.3 1365.2,1459.3 1360.5,1473.7 1347.5,1502.4 1336.2,1519.4 1327.5,1536 1325.5,1538.5 1322.5,1540.1 1320.5,1539.8 1319.5,1539.3 1316.5,1535.9 1304.5,1512.3 1296.6,1499.3 1291.2,1489.3 1287.7,1484.3 1284.1,1481.3 1280.5,1479.7 1273.5,1478.3 1233.4,1473.4 1222.4,1471.6 1216.4,1469.7 1200.4,1462.7 1193.4,1460.6 1189.4,1460 1185.4,1460 1180.4,1460.7 1176.4,1461.8 1169.4,1465 1158.4,1472.9 1153.4,1475.5 1147.4,1477.1 1130.4,1480.2 1110.4,1486.9 1105.4,1488 1094.9,1489.3 1071.4,1491.8ZM1762,1408.2 1789.6,1408.2 1789.6,1474.7 1786.6,1474.5 1783.6,1473.5 1778.6,1470.2 1775.7,1467.3 1773.4,1464.3 1769,1456.3 1766.7,1449.3 1764.9,1440.2 1763,1423.2Z"/>
<path fill="#FF0000" d="M1071.4,1408.2 1173.4,1408.2 1173.4,1409.2 1150.3,1428.2 1139.4,1436 1127.4,1445.4 1119.4,1450.3 1111.4,1453 1098.4,1455.8 1084.4,1457 1071.4,1457.5ZM1212.8,1408.2 1340,1408.2 1340,1409.2 1338.5,1419 1335.9,1427.2 1332.6,1433.2 1328.6,1437.2 1323.5,1440.4 1315.5,1442.9 1306.5,1444.6 1297.5,1445.1 1287,1444.3 1275.5,1441.8 1263.8,1438.2 1246.4,1431.7 1241.4,1429.1 1236.4,1425.9 1222.4,1415.5 1214.1,1410.2 1212.8,1409.2ZM1773.1,1408.2 1789.6,1408.2 1789.6,1460.6 1788.6,1460.6 1786.6,1459.7 1783.1,1456.3 1780.4,1451.3 1777.6,1443.7 1775.6,1436.2 1774.6,1429.2 1773.4,1417.2Z"/>
</g>
<path d="M1108.2,1409.2V1597.5M1144.0,1409.2V1597.5M1179.8,1409.2V1597.5M1215.6,1409.2V1597.5M1251.5,1409.2V1597.5M1287.3,1409.2V1597.5M1323.1,1409.2V1597.5M1358.9,1409.2V1597.5M1394.7,1409.2V1597.5M1430.5,1409.2V1597.5M1466.3,1409.2V1597.5M1502.1,1409.2V1597.5M1537.9,1409.2V1597.5M1573.7,1409.2V1597.5M1609.5,1409.2V1597.5M1645.4,1409.2V1597.5M1681.2,1409.2V1597.5M1717.0,1409.2V1597.5M1752.8,1409.2V1597.5M1072.4,1503.3H1788.6" stroke="#000" stroke-opacity="0.6" stroke-width="1.3" fill="none"/>
<rect x="1072.4" y="1409.2" width="716.2" height="188.3" stroke="#222" stroke-opacity="0.85" stroke-width="1.4" fill="none"/>
<path d="M1072.4,1597.5V1613.0M1108.2,1597.5V1613.0M1144.0,1597.5V1613.0M1179.8,1597.5V1613.0M1215.6,1597.5V1613.0M1251.5,1597.5V1613.0M1287.3,1597.5V1613.0M1323.1,1597.5V1613.0M1358.9,1597.5V1613.0M1394.7,1597.5V1613.0M1430.5,1597.5V1613.0M1466.3,1597.5V1613.0M1502.1,1597.5V1613.0M1537.9,1597.5V1613.0M1573.7,1597.5V1613.0M1609.5,1597.5V1613.0M1645.4,1597.5V1613.0M1681.2,1597.5V1613.0M1717.0,1597.5V1613.0M1752.8,1597.5V1613.0M1788.6,1597.5V1613.0M1056.9,1409.2H1072.4M1056.9,1503.3H1072.4M1056.9,1597.5H1072.4" stroke="#4a4a4a" stroke-opacity="0.85" stroke-width="1.6" fill="none" filter="url(#tsoft)"/>
<g font-family="'Liberation Sans',sans-serif" font-size="30.5" fill="#1c1c1c" text-anchor="middle" filter="url(#tsoft)">
<text transform="translate(1071.8 1645.2) scale(0.92 1)">0</text>
<text transform="translate(1143.4 1645.2) scale(0.92 1)">6</text>
<text transform="translate(1215.0 1645.2) scale(0.92 1)">12</text>
<text transform="translate(1286.7 1645.2) scale(0.92 1)">18</text>
<text transform="translate(1358.3 1645.2) scale(0.92 1)">24</text>
<text transform="translate(1429.9 1645.2) scale(0.92 1)">30</text>
<text transform="translate(1501.5 1645.2) scale(0.92 1)">36</text>
<text transform="translate(1573.1 1645.2) scale(0.92 1)">42</text>
<text transform="translate(1644.8 1645.2) scale(0.92 1)">48</text>
<text transform="translate(1716.4 1645.2) scale(0.92 1)">54</text>
<text transform="translate(1788.0 1645.2) scale(0.92 1)">60</text>
</g>
<g font-family="'Liberation Sans',sans-serif" font-size="30.5" fill="#1c1c1c" text-anchor="end" filter="url(#tsoft)">
<text transform="translate(1049.1 1608.9) scale(0.92 1)">0</text>
<text transform="translate(1049.1 1514.8) scale(0.92 1)">8</text>
<text transform="translate(1049.1 1420.6) scale(0.92 1)">16</text>
</g>
<text font-family="'Liberation Sans',sans-serif" font-size="30" fill="#1c1c1c" text-anchor="middle" filter="url(#tsoft)" transform="translate(1429.9 1684.4) scale(0.922 1)">Distance (m)</text>
<text font-family="'Liberation Sans',sans-serif" font-size="30" fill="#1c1c1c" text-anchor="middle" filter="url(#tsoft)" transform="translate(1005.9 1504.5) rotate(-90) scale(0.962 1)">Distance (m)</text>
<g filter="url(#soft)">
<rect x="1814.4" y="1405.90" width="19.3" height="18.31" fill="#9060E0"/>
<rect x="1814.4" y="1423.91" width="19.3" height="18.31" fill="#FF00FF"/>
<rect x="1814.4" y="1441.91" width="19.3" height="18.31" fill="#900000"/>
<rect x="1814.4" y="1459.92" width="19.3" height="18.31" fill="#D80000"/>
<rect x="1814.4" y="1477.93" width="19.3" height="18.31" fill="#FF0000"/>
<rect x="1814.4" y="1495.94" width="19.3" height="18.31" fill="#FF8C00"/>
<rect x="1814.4" y="1513.94" width="19.3" height="18.31" fill="#FFFF00"/>
<rect x="1814.4" y="1531.95" width="19.3" height="18.31" fill="#006000"/>
<rect x="1814.4" y="1549.96" width="19.3" height="18.31" fill="#008E00"/>
<rect x="1814.4" y="1567.96" width="19.3" height="18.31" fill="#00C400"/>
<rect x="1814.4" y="1585.97" width="19.3" height="18.31" fill="#00F600"/>
<rect x="1814.4" y="1603.98" width="19.3" height="18.31" fill="#0000FF"/>
<rect x="1814.4" y="1621.99" width="19.3" height="18.31" fill="#0A8CFF"/>
<rect x="1814.4" y="1639.99" width="19.3" height="18.31" fill="#00D2FF"/>
</g>
<g font-family="'Liberation Sans',sans-serif" font-size="18" fill="#404040" filter="url(#tsoft)">
<text transform="translate(1859.4 1394.3) scale(0.865 1)">25.0</text>
<text transform="translate(1859.4 1412.3) scale(0.865 1)">24.4</text>
<text transform="translate(1859.4 1430.3) scale(0.865 1)">23.8</text>
<text transform="translate(1859.4 1448.3) scale(0.865 1)">23.2</text>
<text transform="translate(1859.4 1466.3) scale(0.865 1)">22.6</text>
<text transform="translate(1859.4 1484.3) scale(0.865 1)">22.0</text>
<text transform="translate(1859.4 1502.3) scale(0.865 1)">21.4</text>
<text transform="translate(1859.4 1520.3) scale(0.865 1)">20.8</text>
<text transform="translate(1859.4 1538.3) scale(0.865 1)">20.2</text>
<text transform="translate(1859.4 1556.3) scale(0.865 1)">19.6</text>
<text transform="translate(1859.4 1574.4) scale(0.865 1)">19.0</text>
<text transform="translate(1859.4 1592.4) scale(0.865 1)">18.4</text>
<text transform="translate(1859.4 1610.4) scale(0.865 1)">17.8</text>
<text transform="translate(1859.4 1628.4) scale(0.865 1)">17.2</text>
<text transform="translate(1859.4 1646.4) scale(0.865 1)">16.6</text>
<text transform="translate(1859.4 1664.4) scale(0.865 1)">16.0</text>
</g>
</g>
</svg></body></html>
